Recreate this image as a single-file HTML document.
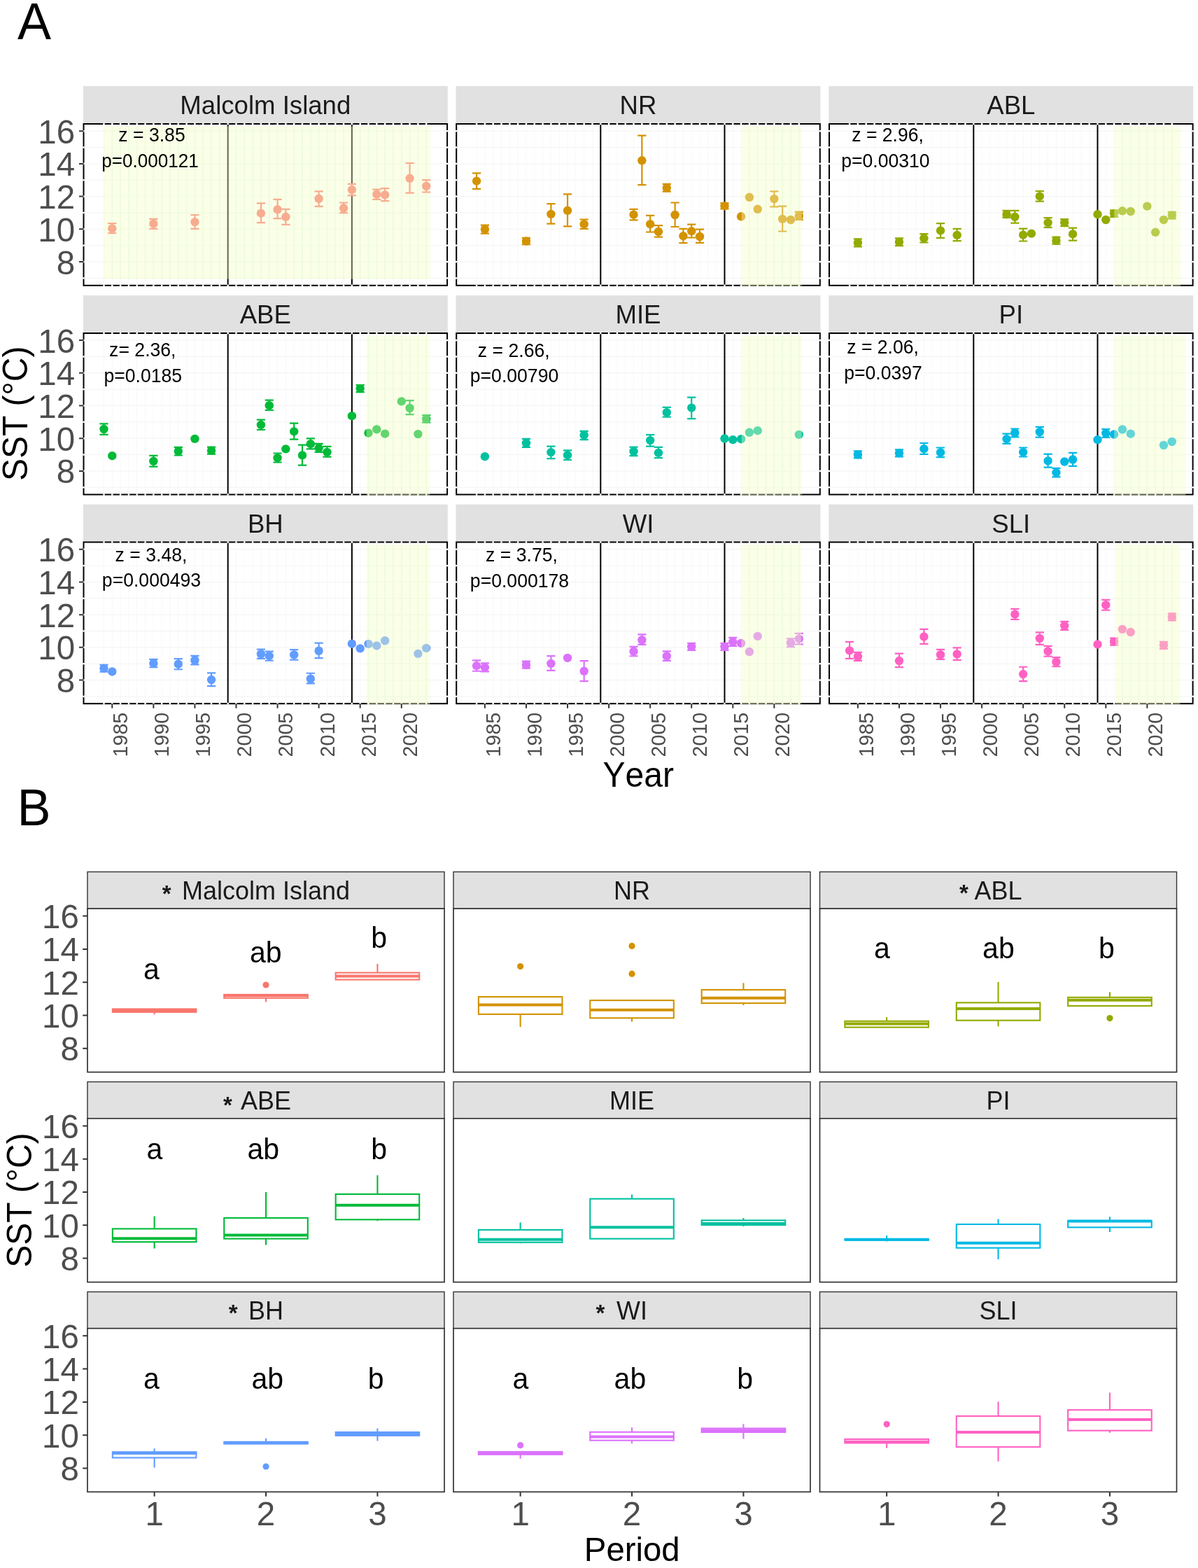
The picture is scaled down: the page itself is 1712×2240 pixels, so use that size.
<!DOCTYPE html>
<html><head><meta charset="utf-8"><title>SST figure</title>
<style>html,body{margin:0;padding:0;background:#fff;}svg{display:block;}text{font-family:"Liberation Sans", Arial, Helvetica, sans-serif;font-kerning:none;font-feature-settings:"kern" 0;}</style>
</head><body>
<svg width="1712" height="2240" viewBox="0 0 1712 2240">
<rect width="1712" height="2240" fill="#FFFFFF"/>
<text transform="translate(25 55.7) scale(1 1.03)" font-size="72" fill="#000">A</text>
<text transform="translate(24.5 1178.9) scale(1 1.03)" font-size="72" fill="#000">B</text>
<rect x="118.8" y="122.9" width="521" height="54.1" fill="#E1E1E1"/>
<text transform="translate(379.3 163) scale(1 1.03)" font-size="36.6" text-anchor="middle" fill="#1A1A1A">Malcolm Island</text>
<rect x="119.5" y="177" width="519.6" height="230.8" fill="#FFFFFF"/>
<path d="M148.49 177V407.8M160.3 177V407.8M172.11 177V407.8M183.93 177V407.8M195.74 177V407.8M207.55 177V407.8M219.37 177V407.8M231.18 177V407.8M242.99 177V407.8M254.8 177V407.8M266.62 177V407.8M278.43 177V407.8M290.24 177V407.8M302.06 177V407.8M313.87 177V407.8M325.68 177V407.8M337.5 177V407.8M349.31 177V407.8M361.12 177V407.8M372.93 177V407.8M384.75 177V407.8M396.56 177V407.8M408.37 177V407.8M420.19 177V407.8M432 177V407.8M443.81 177V407.8M455.62 177V407.8M467.44 177V407.8M479.25 177V407.8M491.06 177V407.8M502.88 177V407.8M514.69 177V407.8M526.5 177V407.8M538.32 177V407.8M550.13 177V407.8M561.94 177V407.8M573.76 177V407.8M585.57 177V407.8M597.38 177V407.8M609.19 177V407.8" stroke="#F8F8F8" stroke-width="1" fill="none"/>
<path d="M119.5 397.35H639.1M119.5 374H639.1M119.5 350.65H639.1M119.5 327.3H639.1M119.5 303.95H639.1M119.5 280.6H639.1M119.5 257.25H639.1M119.5 233.9H639.1M119.5 210.55H639.1M119.5 187.2H639.1" stroke="#F3F3F3" stroke-width="1" fill="none"/>
<path d="M160.3 180.5V398.7M172.11 180.5V398.7M183.93 180.5V398.7M195.74 180.5V398.7M207.55 180.5V398.7M219.37 180.5V398.7M231.18 180.5V398.7M242.99 180.5V398.7M254.8 180.5V398.7M266.62 180.5V398.7M278.43 180.5V398.7M290.24 180.5V398.7M302.06 180.5V398.7M313.87 180.5V398.7M325.68 180.5V398.7M337.5 180.5V398.7M349.31 180.5V398.7M361.12 180.5V398.7M372.93 180.5V398.7M384.75 180.5V398.7M396.56 180.5V398.7M408.37 180.5V398.7M420.19 180.5V398.7M432 180.5V398.7M443.81 180.5V398.7M455.62 180.5V398.7M467.44 180.5V398.7M479.25 180.5V398.7M491.06 180.5V398.7M502.88 180.5V398.7M514.69 180.5V398.7M526.5 180.5V398.7M538.32 180.5V398.7M550.13 180.5V398.7M561.94 180.5V398.7M573.76 180.5V398.7M585.57 180.5V398.7M597.38 180.5V398.7M609.19 180.5V398.7" stroke="rgb(232,250,240)" stroke-width="1.8" fill="none"/>
<path d="M148.3 397.35H615M148.3 374H615M148.3 350.65H615M148.3 327.3H615M148.3 303.95H615M148.3 280.6H615M148.3 257.25H615M148.3 233.9H615M148.3 210.55H615M148.3 187.2H615" stroke="rgb(238,250,244)" stroke-width="1.2" fill="none"/>
<line x1="325.68" y1="177" x2="325.68" y2="407.8" stroke="#000" stroke-width="2"/>
<line x1="502.88" y1="177" x2="502.88" y2="407.8" stroke="#000" stroke-width="2"/>
<path d="M160.3 319.1V333M154.2 319.1H166.4M154.2 333H166.4M219.37 312.9V326.8M213.27 312.9H225.47M213.27 326.8H225.47M278.43 307V326.8M272.33 307H284.53M272.33 326.8H284.53M372.93 290.3V318.2M366.83 290.3H379.03M366.83 318.2H379.03M396.56 284.9V312.1M390.46 284.9H402.66M390.46 312.1H402.66M408.37 298.8V320.9M402.27 298.8H414.47M402.27 320.9H414.47M455.62 273.3V294.9M449.52 273.3H461.73M449.52 294.9H461.73M491.06 289.5V304.2M484.96 289.5H497.16M484.96 304.2H497.16M502.88 262.9V279.1M496.78 262.9H508.98M496.78 279.1H508.98M538.32 270.6V284.9M532.22 270.6H544.42M532.22 284.9H544.42M550.13 269.1V287.2M544.03 269.1H556.23M544.03 287.2H556.23M585.57 233V275.7M579.47 233H591.67M579.47 275.7H591.67M609.19 257.2V274.5M603.09 257.2H615.29M603.09 274.5H615.29" stroke="#F8766D" stroke-width="2.2" fill="none"/>
<g fill="#F8766D"><circle cx="160.3" cy="326.4" r="6.2"/><circle cx="219.37" cy="319.7" r="6.2"/><circle cx="278.43" cy="317.1" r="6.2"/><circle cx="372.93" cy="304.7" r="6.2"/><circle cx="396.56" cy="299.3" r="6.2"/><circle cx="408.37" cy="309.8" r="6.2"/><circle cx="455.62" cy="283.8" r="6.2"/><circle cx="491.06" cy="297.3" r="6.2"/><circle cx="502.88" cy="271.1" r="6.2"/><circle cx="538.32" cy="277.6" r="6.2"/><circle cx="550.13" cy="278.4" r="6.2"/><circle cx="585.57" cy="254.8" r="6.2"/><circle cx="609.19" cy="266" r="6.2"/></g>
<rect x="119.5" y="177" width="519.6" height="230.8" fill="none" stroke="#000" stroke-width="2"/>
<g fill="#FFFFFF"><rect x="147.29" y="175.7" width="2.4" height="2.6"/><rect x="147.29" y="406.5" width="2.4" height="2.6"/><rect x="159.1" y="175.7" width="2.4" height="2.6"/><rect x="159.1" y="406.5" width="2.4" height="2.6"/><rect x="170.91" y="175.7" width="2.4" height="2.6"/><rect x="170.91" y="406.5" width="2.4" height="2.6"/><rect x="182.73" y="175.7" width="2.4" height="2.6"/><rect x="182.73" y="406.5" width="2.4" height="2.6"/><rect x="194.54" y="175.7" width="2.4" height="2.6"/><rect x="194.54" y="406.5" width="2.4" height="2.6"/><rect x="206.35" y="175.7" width="2.4" height="2.6"/><rect x="206.35" y="406.5" width="2.4" height="2.6"/><rect x="218.17" y="175.7" width="2.4" height="2.6"/><rect x="218.17" y="406.5" width="2.4" height="2.6"/><rect x="229.98" y="175.7" width="2.4" height="2.6"/><rect x="229.98" y="406.5" width="2.4" height="2.6"/><rect x="241.79" y="175.7" width="2.4" height="2.6"/><rect x="241.79" y="406.5" width="2.4" height="2.6"/><rect x="253.6" y="175.7" width="2.4" height="2.6"/><rect x="253.6" y="406.5" width="2.4" height="2.6"/><rect x="265.42" y="175.7" width="2.4" height="2.6"/><rect x="265.42" y="406.5" width="2.4" height="2.6"/><rect x="277.23" y="175.7" width="2.4" height="2.6"/><rect x="277.23" y="406.5" width="2.4" height="2.6"/><rect x="289.04" y="175.7" width="2.4" height="2.6"/><rect x="289.04" y="406.5" width="2.4" height="2.6"/><rect x="300.86" y="175.7" width="2.4" height="2.6"/><rect x="300.86" y="406.5" width="2.4" height="2.6"/><rect x="312.67" y="175.7" width="2.4" height="2.6"/><rect x="312.67" y="406.5" width="2.4" height="2.6"/><rect x="324.48" y="175.7" width="2.4" height="2.6"/><rect x="324.48" y="406.5" width="2.4" height="2.6"/><rect x="336.3" y="175.7" width="2.4" height="2.6"/><rect x="336.3" y="406.5" width="2.4" height="2.6"/><rect x="348.11" y="175.7" width="2.4" height="2.6"/><rect x="348.11" y="406.5" width="2.4" height="2.6"/><rect x="359.92" y="175.7" width="2.4" height="2.6"/><rect x="359.92" y="406.5" width="2.4" height="2.6"/><rect x="371.73" y="175.7" width="2.4" height="2.6"/><rect x="371.73" y="406.5" width="2.4" height="2.6"/><rect x="383.55" y="175.7" width="2.4" height="2.6"/><rect x="383.55" y="406.5" width="2.4" height="2.6"/><rect x="395.36" y="175.7" width="2.4" height="2.6"/><rect x="395.36" y="406.5" width="2.4" height="2.6"/><rect x="407.17" y="175.7" width="2.4" height="2.6"/><rect x="407.17" y="406.5" width="2.4" height="2.6"/><rect x="418.99" y="175.7" width="2.4" height="2.6"/><rect x="418.99" y="406.5" width="2.4" height="2.6"/><rect x="430.8" y="175.7" width="2.4" height="2.6"/><rect x="430.8" y="406.5" width="2.4" height="2.6"/><rect x="442.61" y="175.7" width="2.4" height="2.6"/><rect x="442.61" y="406.5" width="2.4" height="2.6"/><rect x="454.43" y="175.7" width="2.4" height="2.6"/><rect x="454.43" y="406.5" width="2.4" height="2.6"/><rect x="466.24" y="175.7" width="2.4" height="2.6"/><rect x="466.24" y="406.5" width="2.4" height="2.6"/><rect x="478.05" y="175.7" width="2.4" height="2.6"/><rect x="478.05" y="406.5" width="2.4" height="2.6"/><rect x="489.86" y="175.7" width="2.4" height="2.6"/><rect x="489.86" y="406.5" width="2.4" height="2.6"/><rect x="501.68" y="175.7" width="2.4" height="2.6"/><rect x="501.68" y="406.5" width="2.4" height="2.6"/><rect x="513.49" y="175.7" width="2.4" height="2.6"/><rect x="513.49" y="406.5" width="2.4" height="2.6"/><rect x="525.3" y="175.7" width="2.4" height="2.6"/><rect x="525.3" y="406.5" width="2.4" height="2.6"/><rect x="537.12" y="175.7" width="2.4" height="2.6"/><rect x="537.12" y="406.5" width="2.4" height="2.6"/><rect x="548.93" y="175.7" width="2.4" height="2.6"/><rect x="548.93" y="406.5" width="2.4" height="2.6"/><rect x="560.74" y="175.7" width="2.4" height="2.6"/><rect x="560.74" y="406.5" width="2.4" height="2.6"/><rect x="572.56" y="175.7" width="2.4" height="2.6"/><rect x="572.56" y="406.5" width="2.4" height="2.6"/><rect x="584.37" y="175.7" width="2.4" height="2.6"/><rect x="584.37" y="406.5" width="2.4" height="2.6"/><rect x="596.18" y="175.7" width="2.4" height="2.6"/><rect x="596.18" y="406.5" width="2.4" height="2.6"/><rect x="607.99" y="175.7" width="2.4" height="2.6"/><rect x="607.99" y="406.5" width="2.4" height="2.6"/><rect x="118.2" y="396.15" width="2.6" height="2.4"/><rect x="637.8" y="396.15" width="2.6" height="2.4"/><rect x="118.2" y="372.8" width="2.6" height="2.4"/><rect x="637.8" y="372.8" width="2.6" height="2.4"/><rect x="118.2" y="349.45" width="2.6" height="2.4"/><rect x="637.8" y="349.45" width="2.6" height="2.4"/><rect x="118.2" y="326.1" width="2.6" height="2.4"/><rect x="637.8" y="326.1" width="2.6" height="2.4"/><rect x="118.2" y="302.75" width="2.6" height="2.4"/><rect x="637.8" y="302.75" width="2.6" height="2.4"/><rect x="118.2" y="279.4" width="2.6" height="2.4"/><rect x="637.8" y="279.4" width="2.6" height="2.4"/><rect x="118.2" y="256.05" width="2.6" height="2.4"/><rect x="637.8" y="256.05" width="2.6" height="2.4"/><rect x="118.2" y="232.7" width="2.6" height="2.4"/><rect x="637.8" y="232.7" width="2.6" height="2.4"/><rect x="118.2" y="209.35" width="2.6" height="2.4"/><rect x="637.8" y="209.35" width="2.6" height="2.4"/><rect x="118.2" y="186" width="2.6" height="2.4"/><rect x="637.8" y="186" width="2.6" height="2.4"/></g>
<rect x="148.3" y="180.5" width="466.7" height="218.2" fill="rgb(245,255,195)" fill-opacity="0.4"/>
<text transform="translate(217 201.6) scale(1 1.03)" font-size="26.6" text-anchor="middle" fill="#000">z = 3.85</text>
<text transform="translate(214.5 238.8) scale(1 1.03)" font-size="26.1" text-anchor="middle" fill="#000">p=0.000121</text>
<rect x="651.5" y="122.9" width="521" height="54.1" fill="#E1E1E1"/>
<text transform="translate(912 163) scale(1 1.03)" font-size="36.6" text-anchor="middle" fill="#1A1A1A">NR</text>
<rect x="652.2" y="177" width="519.6" height="230.8" fill="#FFFFFF"/>
<path d="M681.09 177V407.8M692.9 177V407.8M704.71 177V407.8M716.53 177V407.8M728.34 177V407.8M740.15 177V407.8M751.97 177V407.8M763.78 177V407.8M775.59 177V407.8M787.4 177V407.8M799.22 177V407.8M811.03 177V407.8M822.84 177V407.8M834.66 177V407.8M846.47 177V407.8M858.28 177V407.8M870.1 177V407.8M881.91 177V407.8M893.72 177V407.8M905.53 177V407.8M917.35 177V407.8M929.16 177V407.8M940.97 177V407.8M952.79 177V407.8M964.6 177V407.8M976.41 177V407.8M988.22 177V407.8M1000.04 177V407.8M1011.85 177V407.8M1023.66 177V407.8M1035.48 177V407.8M1047.29 177V407.8M1059.1 177V407.8M1070.92 177V407.8M1082.73 177V407.8M1094.54 177V407.8M1106.36 177V407.8M1118.17 177V407.8M1129.98 177V407.8M1141.79 177V407.8" stroke="#F8F8F8" stroke-width="1" fill="none"/>
<path d="M652.2 397.35H1171.8M652.2 374H1171.8M652.2 350.65H1171.8M652.2 327.3H1171.8M652.2 303.95H1171.8M652.2 280.6H1171.8M652.2 257.25H1171.8M652.2 233.9H1171.8M652.2 210.55H1171.8M652.2 187.2H1171.8" stroke="#F3F3F3" stroke-width="1" fill="none"/>
<path d="M1070.92 180.6V407.8M1082.73 180.6V407.8M1094.54 180.6V407.8M1106.36 180.6V407.8M1118.17 180.6V407.8M1129.98 180.6V407.8M1141.79 180.6V407.8" stroke="rgb(232,250,240)" stroke-width="1.8" fill="none"/>
<path d="M1059.8 397.35H1145.7M1059.8 374H1145.7M1059.8 350.65H1145.7M1059.8 327.3H1145.7M1059.8 303.95H1145.7M1059.8 280.6H1145.7M1059.8 257.25H1145.7M1059.8 233.9H1145.7M1059.8 210.55H1145.7M1059.8 187.2H1145.7" stroke="rgb(238,250,244)" stroke-width="1.2" fill="none"/>
<line x1="858.28" y1="177" x2="858.28" y2="407.8" stroke="#000" stroke-width="2"/>
<line x1="1035.48" y1="177" x2="1035.48" y2="407.8" stroke="#000" stroke-width="2"/>
<path d="M681.09 247.4V269.9M674.99 247.4H687.19M674.99 269.9H687.19M692.9 321.7V333.6M686.8 321.7H699M686.8 333.6H699M751.97 339.9V349.1M745.87 339.9H758.07M745.87 349.1H758.07M787.4 291.1V319.7M781.3 291.1H793.5M781.3 319.7H793.5M811.03 277.3V323.3M804.93 277.3H817.13M804.93 323.3H817.13M834.66 313.5V326.8M828.56 313.5H840.76M828.56 326.8H840.76M905.53 298.8V314.3M899.43 298.8H911.63M899.43 314.3H911.63M917.35 193.7V264.1M911.25 193.7H923.45M911.25 264.1H923.45M929.16 307.8V331.5M923.06 307.8H935.26M923.06 331.5H935.26M940.97 322.2V338.7M934.87 322.2H947.07M934.87 338.7H947.07M952.79 262.9V273.7M946.69 262.9H958.89M946.69 273.7H958.89M964.6 289.5V324M958.5 289.5H970.7M958.5 324H970.7M976.41 326.8V347.2M970.31 326.8H982.51M970.31 347.2H982.51M988.22 320.6V339.5M982.12 320.6H994.32M982.12 339.5H994.32M1000.04 327.6V346.9M993.94 327.6H1006.14M993.94 346.9H1006.14M1035.48 290V298.5M1029.38 290H1041.58M1029.38 298.5H1041.58M1106.36 273.3V295.4M1100.26 273.3H1112.45M1100.26 295.4H1112.45M1118.17 294.6V330.5M1112.07 294.6H1124.27M1112.07 330.5H1124.27M1141.79 302.7V314M1135.69 302.7H1147.89M1135.69 314H1147.89" stroke="#D39200" stroke-width="2.2" fill="none"/>
<g fill="#D39200"><circle cx="681.09" cy="258.6" r="6.2"/><circle cx="692.9" cy="327.6" r="6.2"/><circle cx="751.97" cy="344.5" r="6.2"/><circle cx="787.4" cy="305.9" r="6.2"/><circle cx="811.03" cy="300.8" r="6.2"/><circle cx="834.66" cy="320.2" r="6.2"/><circle cx="905.53" cy="306.7" r="6.2"/><circle cx="917.35" cy="229.3" r="6.2"/><circle cx="929.16" cy="320.2" r="6.2"/><circle cx="940.97" cy="331" r="6.2"/><circle cx="952.79" cy="268.3" r="6.2"/><circle cx="964.6" cy="307" r="6.2"/><circle cx="976.41" cy="337.2" r="6.2"/><circle cx="988.22" cy="330.2" r="6.2"/><circle cx="1000.04" cy="338" r="6.2"/><circle cx="1035.48" cy="294.2" r="6.2"/><circle cx="1059.1" cy="309.3" r="6.2"/><circle cx="1070.92" cy="281.8" r="6.2"/><circle cx="1082.73" cy="298.8" r="6.2"/><circle cx="1106.36" cy="284.1" r="6.2"/><circle cx="1118.17" cy="312.9" r="6.2"/><circle cx="1129.98" cy="314" r="6.2"/><circle cx="1141.79" cy="308.5" r="6.2"/></g>
<rect x="652.2" y="177" width="519.6" height="230.8" fill="none" stroke="#000" stroke-width="2"/>
<g fill="#FFFFFF"><rect x="679.89" y="175.7" width="2.4" height="2.6"/><rect x="679.89" y="406.5" width="2.4" height="2.6"/><rect x="691.7" y="175.7" width="2.4" height="2.6"/><rect x="691.7" y="406.5" width="2.4" height="2.6"/><rect x="703.51" y="175.7" width="2.4" height="2.6"/><rect x="703.51" y="406.5" width="2.4" height="2.6"/><rect x="715.33" y="175.7" width="2.4" height="2.6"/><rect x="715.33" y="406.5" width="2.4" height="2.6"/><rect x="727.14" y="175.7" width="2.4" height="2.6"/><rect x="727.14" y="406.5" width="2.4" height="2.6"/><rect x="738.95" y="175.7" width="2.4" height="2.6"/><rect x="738.95" y="406.5" width="2.4" height="2.6"/><rect x="750.76" y="175.7" width="2.4" height="2.6"/><rect x="750.76" y="406.5" width="2.4" height="2.6"/><rect x="762.58" y="175.7" width="2.4" height="2.6"/><rect x="762.58" y="406.5" width="2.4" height="2.6"/><rect x="774.39" y="175.7" width="2.4" height="2.6"/><rect x="774.39" y="406.5" width="2.4" height="2.6"/><rect x="786.2" y="175.7" width="2.4" height="2.6"/><rect x="786.2" y="406.5" width="2.4" height="2.6"/><rect x="798.02" y="175.7" width="2.4" height="2.6"/><rect x="798.02" y="406.5" width="2.4" height="2.6"/><rect x="809.83" y="175.7" width="2.4" height="2.6"/><rect x="809.83" y="406.5" width="2.4" height="2.6"/><rect x="821.64" y="175.7" width="2.4" height="2.6"/><rect x="821.64" y="406.5" width="2.4" height="2.6"/><rect x="833.46" y="175.7" width="2.4" height="2.6"/><rect x="833.46" y="406.5" width="2.4" height="2.6"/><rect x="845.27" y="175.7" width="2.4" height="2.6"/><rect x="845.27" y="406.5" width="2.4" height="2.6"/><rect x="857.08" y="175.7" width="2.4" height="2.6"/><rect x="857.08" y="406.5" width="2.4" height="2.6"/><rect x="868.89" y="175.7" width="2.4" height="2.6"/><rect x="868.89" y="406.5" width="2.4" height="2.6"/><rect x="880.71" y="175.7" width="2.4" height="2.6"/><rect x="880.71" y="406.5" width="2.4" height="2.6"/><rect x="892.52" y="175.7" width="2.4" height="2.6"/><rect x="892.52" y="406.5" width="2.4" height="2.6"/><rect x="904.33" y="175.7" width="2.4" height="2.6"/><rect x="904.33" y="406.5" width="2.4" height="2.6"/><rect x="916.15" y="175.7" width="2.4" height="2.6"/><rect x="916.15" y="406.5" width="2.4" height="2.6"/><rect x="927.96" y="175.7" width="2.4" height="2.6"/><rect x="927.96" y="406.5" width="2.4" height="2.6"/><rect x="939.77" y="175.7" width="2.4" height="2.6"/><rect x="939.77" y="406.5" width="2.4" height="2.6"/><rect x="951.59" y="175.7" width="2.4" height="2.6"/><rect x="951.59" y="406.5" width="2.4" height="2.6"/><rect x="963.4" y="175.7" width="2.4" height="2.6"/><rect x="963.4" y="406.5" width="2.4" height="2.6"/><rect x="975.21" y="175.7" width="2.4" height="2.6"/><rect x="975.21" y="406.5" width="2.4" height="2.6"/><rect x="987.02" y="175.7" width="2.4" height="2.6"/><rect x="987.02" y="406.5" width="2.4" height="2.6"/><rect x="998.84" y="175.7" width="2.4" height="2.6"/><rect x="998.84" y="406.5" width="2.4" height="2.6"/><rect x="1010.65" y="175.7" width="2.4" height="2.6"/><rect x="1010.65" y="406.5" width="2.4" height="2.6"/><rect x="1022.46" y="175.7" width="2.4" height="2.6"/><rect x="1022.46" y="406.5" width="2.4" height="2.6"/><rect x="1034.28" y="175.7" width="2.4" height="2.6"/><rect x="1034.28" y="406.5" width="2.4" height="2.6"/><rect x="1046.09" y="175.7" width="2.4" height="2.6"/><rect x="1046.09" y="406.5" width="2.4" height="2.6"/><rect x="1057.9" y="175.7" width="2.4" height="2.6"/><rect x="1057.9" y="406.5" width="2.4" height="2.6"/><rect x="1069.72" y="175.7" width="2.4" height="2.6"/><rect x="1069.72" y="406.5" width="2.4" height="2.6"/><rect x="1081.53" y="175.7" width="2.4" height="2.6"/><rect x="1081.53" y="406.5" width="2.4" height="2.6"/><rect x="1093.34" y="175.7" width="2.4" height="2.6"/><rect x="1093.34" y="406.5" width="2.4" height="2.6"/><rect x="1105.15" y="175.7" width="2.4" height="2.6"/><rect x="1105.15" y="406.5" width="2.4" height="2.6"/><rect x="1116.97" y="175.7" width="2.4" height="2.6"/><rect x="1116.97" y="406.5" width="2.4" height="2.6"/><rect x="1128.78" y="175.7" width="2.4" height="2.6"/><rect x="1128.78" y="406.5" width="2.4" height="2.6"/><rect x="1140.59" y="175.7" width="2.4" height="2.6"/><rect x="1140.59" y="406.5" width="2.4" height="2.6"/><rect x="650.9" y="396.15" width="2.6" height="2.4"/><rect x="1170.5" y="396.15" width="2.6" height="2.4"/><rect x="650.9" y="372.8" width="2.6" height="2.4"/><rect x="1170.5" y="372.8" width="2.6" height="2.4"/><rect x="650.9" y="349.45" width="2.6" height="2.4"/><rect x="1170.5" y="349.45" width="2.6" height="2.4"/><rect x="650.9" y="326.1" width="2.6" height="2.4"/><rect x="1170.5" y="326.1" width="2.6" height="2.4"/><rect x="650.9" y="302.75" width="2.6" height="2.4"/><rect x="1170.5" y="302.75" width="2.6" height="2.4"/><rect x="650.9" y="279.4" width="2.6" height="2.4"/><rect x="1170.5" y="279.4" width="2.6" height="2.4"/><rect x="650.9" y="256.05" width="2.6" height="2.4"/><rect x="1170.5" y="256.05" width="2.6" height="2.4"/><rect x="650.9" y="232.7" width="2.6" height="2.4"/><rect x="1170.5" y="232.7" width="2.6" height="2.4"/><rect x="650.9" y="209.35" width="2.6" height="2.4"/><rect x="1170.5" y="209.35" width="2.6" height="2.4"/><rect x="650.9" y="186" width="2.6" height="2.4"/><rect x="1170.5" y="186" width="2.6" height="2.4"/></g>
<rect x="1059.8" y="180.6" width="85.9" height="228.2" fill="rgb(245,255,195)" fill-opacity="0.4"/>
<rect x="1184.3" y="122.9" width="521" height="54.1" fill="#E1E1E1"/>
<text transform="translate(1444.8 163) scale(1 1.03)" font-size="36.6" text-anchor="middle" fill="#1A1A1A">ABL</text>
<rect x="1185" y="177" width="519.6" height="230.8" fill="#FFFFFF"/>
<path d="M1214.09 177V407.8M1225.9 177V407.8M1237.71 177V407.8M1249.53 177V407.8M1261.34 177V407.8M1273.15 177V407.8M1284.97 177V407.8M1296.78 177V407.8M1308.59 177V407.8M1320.4 177V407.8M1332.22 177V407.8M1344.03 177V407.8M1355.84 177V407.8M1367.66 177V407.8M1379.47 177V407.8M1391.28 177V407.8M1403.1 177V407.8M1414.91 177V407.8M1426.72 177V407.8M1438.53 177V407.8M1450.35 177V407.8M1462.16 177V407.8M1473.97 177V407.8M1485.79 177V407.8M1497.6 177V407.8M1509.41 177V407.8M1521.23 177V407.8M1533.04 177V407.8M1544.85 177V407.8M1556.66 177V407.8M1568.48 177V407.8M1580.29 177V407.8M1592.1 177V407.8M1603.92 177V407.8M1615.73 177V407.8M1627.54 177V407.8M1639.36 177V407.8M1651.17 177V407.8M1662.98 177V407.8M1674.79 177V407.8" stroke="#F8F8F8" stroke-width="1" fill="none"/>
<path d="M1185 397.35H1704.6M1185 374H1704.6M1185 350.65H1704.6M1185 327.3H1704.6M1185 303.95H1704.6M1185 280.6H1704.6M1185 257.25H1704.6M1185 233.9H1704.6M1185 210.55H1704.6M1185 187.2H1704.6" stroke="#F3F3F3" stroke-width="1" fill="none"/>
<path d="M1603.92 180.6V407.8M1615.73 180.6V407.8M1627.54 180.6V407.8M1639.36 180.6V407.8M1651.17 180.6V407.8M1662.98 180.6V407.8M1674.79 180.6V407.8" stroke="rgb(232,250,240)" stroke-width="1.8" fill="none"/>
<path d="M1592.3 397.35H1687M1592.3 374H1687M1592.3 350.65H1687M1592.3 327.3H1687M1592.3 303.95H1687M1592.3 280.6H1687M1592.3 257.25H1687M1592.3 233.9H1687M1592.3 210.55H1687M1592.3 187.2H1687" stroke="rgb(238,250,244)" stroke-width="1.2" fill="none"/>
<line x1="1391.28" y1="177" x2="1391.28" y2="407.8" stroke="#000" stroke-width="2"/>
<line x1="1568.48" y1="177" x2="1568.48" y2="407.8" stroke="#000" stroke-width="2"/>
<path d="M1225.9 341.3V352.3M1219.8 341.3H1232M1219.8 352.3H1232M1284.97 340.3V351.1M1278.87 340.3H1291.07M1278.87 351.1H1291.07M1320.4 334.1V346.5M1314.3 334.1H1326.5M1314.3 346.5H1326.5M1344.03 319.1V339.8M1337.93 319.1H1350.13M1337.93 339.8H1350.13M1367.66 326.8V344.1M1361.56 326.8H1373.76M1361.56 344.1H1373.76M1438.53 300.8V310.9M1432.43 300.8H1444.63M1432.43 310.9H1444.63M1450.35 300.8V318.6M1444.25 300.8H1456.45M1444.25 318.6H1456.45M1462.16 326.7V344.5M1456.06 326.7H1468.26M1456.06 344.5H1468.26M1485.79 273V287.7M1479.69 273H1491.89M1479.69 287.7H1491.89M1497.6 311.2V324.8M1491.5 311.2H1503.7M1491.5 324.8H1503.7M1509.41 338.7V348.7M1503.31 338.7H1515.51M1503.31 348.7H1515.51M1521.23 313.1V323.1M1515.13 313.1H1527.33M1515.13 323.1H1527.33M1533.04 325.6V343.7M1526.94 325.6H1539.14M1526.94 343.7H1539.14M1592.1 300.3V309.8M1586 300.3H1598.2M1586 309.8H1598.2M1674.79 302.8V312.3M1668.69 302.8H1680.89M1668.69 312.3H1680.89" stroke="#93AA00" stroke-width="2.2" fill="none"/>
<g fill="#93AA00"><circle cx="1225.9" cy="346.8" r="6.2"/><circle cx="1284.97" cy="345.7" r="6.2"/><circle cx="1320.4" cy="340.3" r="6.2"/><circle cx="1344.03" cy="329.4" r="6.2"/><circle cx="1367.66" cy="335.9" r="6.2"/><circle cx="1438.53" cy="306.2" r="6.2"/><circle cx="1450.35" cy="309.8" r="6.2"/><circle cx="1462.16" cy="335.6" r="6.2"/><circle cx="1473.97" cy="333.6" r="6.2"/><circle cx="1485.79" cy="280.4" r="6.2"/><circle cx="1497.6" cy="318.1" r="6.2"/><circle cx="1509.41" cy="343.7" r="6.2"/><circle cx="1521.23" cy="318.1" r="6.2"/><circle cx="1533.04" cy="334.4" r="6.2"/><circle cx="1568.48" cy="306.2" r="6.2"/><circle cx="1580.29" cy="314" r="6.2"/><circle cx="1592.1" cy="305" r="6.2"/><circle cx="1603.92" cy="301.3" r="6.2"/><circle cx="1615.73" cy="302" r="6.2"/><circle cx="1639.36" cy="294.6" r="6.2"/><circle cx="1651.17" cy="331.8" r="6.2"/><circle cx="1662.98" cy="314" r="6.2"/><circle cx="1674.79" cy="307.5" r="6.2"/></g>
<rect x="1185" y="177" width="519.6" height="230.8" fill="none" stroke="#000" stroke-width="2"/>
<g fill="#FFFFFF"><rect x="1212.89" y="175.7" width="2.4" height="2.6"/><rect x="1212.89" y="406.5" width="2.4" height="2.6"/><rect x="1224.7" y="175.7" width="2.4" height="2.6"/><rect x="1224.7" y="406.5" width="2.4" height="2.6"/><rect x="1236.51" y="175.7" width="2.4" height="2.6"/><rect x="1236.51" y="406.5" width="2.4" height="2.6"/><rect x="1248.33" y="175.7" width="2.4" height="2.6"/><rect x="1248.33" y="406.5" width="2.4" height="2.6"/><rect x="1260.14" y="175.7" width="2.4" height="2.6"/><rect x="1260.14" y="406.5" width="2.4" height="2.6"/><rect x="1271.95" y="175.7" width="2.4" height="2.6"/><rect x="1271.95" y="406.5" width="2.4" height="2.6"/><rect x="1283.77" y="175.7" width="2.4" height="2.6"/><rect x="1283.77" y="406.5" width="2.4" height="2.6"/><rect x="1295.58" y="175.7" width="2.4" height="2.6"/><rect x="1295.58" y="406.5" width="2.4" height="2.6"/><rect x="1307.39" y="175.7" width="2.4" height="2.6"/><rect x="1307.39" y="406.5" width="2.4" height="2.6"/><rect x="1319.2" y="175.7" width="2.4" height="2.6"/><rect x="1319.2" y="406.5" width="2.4" height="2.6"/><rect x="1331.02" y="175.7" width="2.4" height="2.6"/><rect x="1331.02" y="406.5" width="2.4" height="2.6"/><rect x="1342.83" y="175.7" width="2.4" height="2.6"/><rect x="1342.83" y="406.5" width="2.4" height="2.6"/><rect x="1354.64" y="175.7" width="2.4" height="2.6"/><rect x="1354.64" y="406.5" width="2.4" height="2.6"/><rect x="1366.46" y="175.7" width="2.4" height="2.6"/><rect x="1366.46" y="406.5" width="2.4" height="2.6"/><rect x="1378.27" y="175.7" width="2.4" height="2.6"/><rect x="1378.27" y="406.5" width="2.4" height="2.6"/><rect x="1390.08" y="175.7" width="2.4" height="2.6"/><rect x="1390.08" y="406.5" width="2.4" height="2.6"/><rect x="1401.89" y="175.7" width="2.4" height="2.6"/><rect x="1401.89" y="406.5" width="2.4" height="2.6"/><rect x="1413.71" y="175.7" width="2.4" height="2.6"/><rect x="1413.71" y="406.5" width="2.4" height="2.6"/><rect x="1425.52" y="175.7" width="2.4" height="2.6"/><rect x="1425.52" y="406.5" width="2.4" height="2.6"/><rect x="1437.33" y="175.7" width="2.4" height="2.6"/><rect x="1437.33" y="406.5" width="2.4" height="2.6"/><rect x="1449.15" y="175.7" width="2.4" height="2.6"/><rect x="1449.15" y="406.5" width="2.4" height="2.6"/><rect x="1460.96" y="175.7" width="2.4" height="2.6"/><rect x="1460.96" y="406.5" width="2.4" height="2.6"/><rect x="1472.77" y="175.7" width="2.4" height="2.6"/><rect x="1472.77" y="406.5" width="2.4" height="2.6"/><rect x="1484.59" y="175.7" width="2.4" height="2.6"/><rect x="1484.59" y="406.5" width="2.4" height="2.6"/><rect x="1496.4" y="175.7" width="2.4" height="2.6"/><rect x="1496.4" y="406.5" width="2.4" height="2.6"/><rect x="1508.21" y="175.7" width="2.4" height="2.6"/><rect x="1508.21" y="406.5" width="2.4" height="2.6"/><rect x="1520.03" y="175.7" width="2.4" height="2.6"/><rect x="1520.03" y="406.5" width="2.4" height="2.6"/><rect x="1531.84" y="175.7" width="2.4" height="2.6"/><rect x="1531.84" y="406.5" width="2.4" height="2.6"/><rect x="1543.65" y="175.7" width="2.4" height="2.6"/><rect x="1543.65" y="406.5" width="2.4" height="2.6"/><rect x="1555.46" y="175.7" width="2.4" height="2.6"/><rect x="1555.46" y="406.5" width="2.4" height="2.6"/><rect x="1567.28" y="175.7" width="2.4" height="2.6"/><rect x="1567.28" y="406.5" width="2.4" height="2.6"/><rect x="1579.09" y="175.7" width="2.4" height="2.6"/><rect x="1579.09" y="406.5" width="2.4" height="2.6"/><rect x="1590.9" y="175.7" width="2.4" height="2.6"/><rect x="1590.9" y="406.5" width="2.4" height="2.6"/><rect x="1602.72" y="175.7" width="2.4" height="2.6"/><rect x="1602.72" y="406.5" width="2.4" height="2.6"/><rect x="1614.53" y="175.7" width="2.4" height="2.6"/><rect x="1614.53" y="406.5" width="2.4" height="2.6"/><rect x="1626.34" y="175.7" width="2.4" height="2.6"/><rect x="1626.34" y="406.5" width="2.4" height="2.6"/><rect x="1638.15" y="175.7" width="2.4" height="2.6"/><rect x="1638.15" y="406.5" width="2.4" height="2.6"/><rect x="1649.97" y="175.7" width="2.4" height="2.6"/><rect x="1649.97" y="406.5" width="2.4" height="2.6"/><rect x="1661.78" y="175.7" width="2.4" height="2.6"/><rect x="1661.78" y="406.5" width="2.4" height="2.6"/><rect x="1673.59" y="175.7" width="2.4" height="2.6"/><rect x="1673.59" y="406.5" width="2.4" height="2.6"/><rect x="1183.7" y="396.15" width="2.6" height="2.4"/><rect x="1703.3" y="396.15" width="2.6" height="2.4"/><rect x="1183.7" y="372.8" width="2.6" height="2.4"/><rect x="1703.3" y="372.8" width="2.6" height="2.4"/><rect x="1183.7" y="349.45" width="2.6" height="2.4"/><rect x="1703.3" y="349.45" width="2.6" height="2.4"/><rect x="1183.7" y="326.1" width="2.6" height="2.4"/><rect x="1703.3" y="326.1" width="2.6" height="2.4"/><rect x="1183.7" y="302.75" width="2.6" height="2.4"/><rect x="1703.3" y="302.75" width="2.6" height="2.4"/><rect x="1183.7" y="279.4" width="2.6" height="2.4"/><rect x="1703.3" y="279.4" width="2.6" height="2.4"/><rect x="1183.7" y="256.05" width="2.6" height="2.4"/><rect x="1703.3" y="256.05" width="2.6" height="2.4"/><rect x="1183.7" y="232.7" width="2.6" height="2.4"/><rect x="1703.3" y="232.7" width="2.6" height="2.4"/><rect x="1183.7" y="209.35" width="2.6" height="2.4"/><rect x="1703.3" y="209.35" width="2.6" height="2.4"/><rect x="1183.7" y="186" width="2.6" height="2.4"/><rect x="1703.3" y="186" width="2.6" height="2.4"/></g>
<rect x="1592.3" y="180.6" width="94.7" height="228.2" fill="rgb(245,255,195)" fill-opacity="0.4"/>
<text transform="translate(1268.6 201.8) scale(1 1.03)" font-size="26.6" text-anchor="middle" fill="#000">z = 2.96,</text>
<text transform="translate(1265.4 238.9) scale(1 1.03)" font-size="26.6" text-anchor="middle" fill="#000">p=0.00310</text>
<rect x="118.8" y="422" width="521" height="54" fill="#E1E1E1"/>
<text transform="translate(379.3 462.1) scale(1 1.03)" font-size="36.6" text-anchor="middle" fill="#1A1A1A">ABE</text>
<rect x="119.5" y="476" width="519.6" height="230.5" fill="#FFFFFF"/>
<path d="M148.49 476V706.5M160.3 476V706.5M172.11 476V706.5M183.93 476V706.5M195.74 476V706.5M207.55 476V706.5M219.37 476V706.5M231.18 476V706.5M242.99 476V706.5M254.8 476V706.5M266.62 476V706.5M278.43 476V706.5M290.24 476V706.5M302.06 476V706.5M313.87 476V706.5M325.68 476V706.5M337.5 476V706.5M349.31 476V706.5M361.12 476V706.5M372.93 476V706.5M384.75 476V706.5M396.56 476V706.5M408.37 476V706.5M420.19 476V706.5M432 476V706.5M443.81 476V706.5M455.62 476V706.5M467.44 476V706.5M479.25 476V706.5M491.06 476V706.5M502.88 476V706.5M514.69 476V706.5M526.5 476V706.5M538.32 476V706.5M550.13 476V706.5M561.94 476V706.5M573.76 476V706.5M585.57 476V706.5M597.38 476V706.5M609.19 476V706.5" stroke="#F8F8F8" stroke-width="1" fill="none"/>
<path d="M119.5 696.25H639.1M119.5 672.9H639.1M119.5 649.55H639.1M119.5 626.2H639.1M119.5 602.85H639.1M119.5 579.5H639.1M119.5 556.15H639.1M119.5 532.8H639.1M119.5 509.45H639.1M119.5 486.1H639.1" stroke="#F3F3F3" stroke-width="1" fill="none"/>
<path d="M526.5 479.6V706.5M538.32 479.6V706.5M550.13 479.6V706.5M561.94 479.6V706.5M573.76 479.6V706.5M585.57 479.6V706.5M597.38 479.6V706.5M609.19 479.6V706.5" stroke="rgb(232,250,240)" stroke-width="1.8" fill="none"/>
<path d="M523.6 696.25H614.2M523.6 672.9H614.2M523.6 649.55H614.2M523.6 626.2H614.2M523.6 602.85H614.2M523.6 579.5H614.2M523.6 556.15H614.2M523.6 532.8H614.2M523.6 509.45H614.2M523.6 486.1H614.2" stroke="rgb(238,250,244)" stroke-width="1.2" fill="none"/>
<line x1="325.68" y1="476" x2="325.68" y2="706.5" stroke="#000" stroke-width="2"/>
<line x1="502.88" y1="476" x2="502.88" y2="706.5" stroke="#000" stroke-width="2"/>
<path d="M148.49 605.4V620.8M142.39 605.4H154.59M142.39 620.8H154.59M219.37 650.8V666.6M213.27 650.8H225.47M213.27 666.6H225.47M254.8 638.9V650.5M248.7 638.9H260.9M248.7 650.5H260.9M302.06 638.7V648.7M295.96 638.7H308.16M295.96 648.7H308.16M372.93 599.7V614M366.83 599.7H379.03M366.83 614H379.03M384.75 571.7V585.9M378.65 571.7H390.85M378.65 585.9H390.85M396.56 647.5V660.5M390.46 647.5H402.66M390.46 660.5H402.66M420.19 604.6V627.6M414.09 604.6H426.29M414.09 627.6H426.29M432 635.6V664.6M425.9 635.6H438.1M425.9 664.6H438.1M443.81 626.4V641.4M437.71 626.4H449.91M437.71 641.4H449.91M455.62 633.9V645.9M449.52 633.9H461.73M449.52 645.9H461.73M467.44 637.9V652.6M461.34 637.9H473.54M461.34 652.6H473.54M514.69 550.2V560.2M508.59 550.2H520.79M508.59 560.2H520.79M585.57 572.2V592.2M579.47 572.2H591.67M579.47 592.2H591.67M609.19 593.2V603.7M603.09 593.2H615.29M603.09 603.7H615.29" stroke="#00BA38" stroke-width="2.2" fill="none"/>
<g fill="#00BA38"><circle cx="148.49" cy="613" r="6.2"/><circle cx="160.3" cy="651.2" r="6.2"/><circle cx="219.37" cy="658.8" r="6.2"/><circle cx="254.8" cy="644.7" r="6.2"/><circle cx="278.43" cy="626.9" r="6.2"/><circle cx="302.06" cy="643.7" r="6.2"/><circle cx="372.93" cy="606.9" r="6.2"/><circle cx="384.75" cy="579.2" r="6.2"/><circle cx="396.56" cy="654.2" r="6.2"/><circle cx="408.37" cy="641.4" r="6.2"/><circle cx="420.19" cy="616.4" r="6.2"/><circle cx="432" cy="650.4" r="6.2"/><circle cx="443.81" cy="634.2" r="6.2"/><circle cx="455.62" cy="640.1" r="6.2"/><circle cx="467.44" cy="645.9" r="6.2"/><circle cx="502.88" cy="594.2" r="6.2"/><circle cx="514.69" cy="555.1" r="6.2"/><circle cx="526.5" cy="618.7" r="6.2"/><circle cx="538.32" cy="613.4" r="6.2"/><circle cx="550.13" cy="619.6" r="6.2"/><circle cx="573.76" cy="573.4" r="6.2"/><circle cx="585.57" cy="583" r="6.2"/><circle cx="597.38" cy="620.1" r="6.2"/><circle cx="609.19" cy="598.4" r="6.2"/></g>
<rect x="119.5" y="476" width="519.6" height="230.5" fill="none" stroke="#000" stroke-width="2"/>
<g fill="#FFFFFF"><rect x="147.29" y="474.7" width="2.4" height="2.6"/><rect x="147.29" y="705.2" width="2.4" height="2.6"/><rect x="159.1" y="474.7" width="2.4" height="2.6"/><rect x="159.1" y="705.2" width="2.4" height="2.6"/><rect x="170.91" y="474.7" width="2.4" height="2.6"/><rect x="170.91" y="705.2" width="2.4" height="2.6"/><rect x="182.73" y="474.7" width="2.4" height="2.6"/><rect x="182.73" y="705.2" width="2.4" height="2.6"/><rect x="194.54" y="474.7" width="2.4" height="2.6"/><rect x="194.54" y="705.2" width="2.4" height="2.6"/><rect x="206.35" y="474.7" width="2.4" height="2.6"/><rect x="206.35" y="705.2" width="2.4" height="2.6"/><rect x="218.17" y="474.7" width="2.4" height="2.6"/><rect x="218.17" y="705.2" width="2.4" height="2.6"/><rect x="229.98" y="474.7" width="2.4" height="2.6"/><rect x="229.98" y="705.2" width="2.4" height="2.6"/><rect x="241.79" y="474.7" width="2.4" height="2.6"/><rect x="241.79" y="705.2" width="2.4" height="2.6"/><rect x="253.6" y="474.7" width="2.4" height="2.6"/><rect x="253.6" y="705.2" width="2.4" height="2.6"/><rect x="265.42" y="474.7" width="2.4" height="2.6"/><rect x="265.42" y="705.2" width="2.4" height="2.6"/><rect x="277.23" y="474.7" width="2.4" height="2.6"/><rect x="277.23" y="705.2" width="2.4" height="2.6"/><rect x="289.04" y="474.7" width="2.4" height="2.6"/><rect x="289.04" y="705.2" width="2.4" height="2.6"/><rect x="300.86" y="474.7" width="2.4" height="2.6"/><rect x="300.86" y="705.2" width="2.4" height="2.6"/><rect x="312.67" y="474.7" width="2.4" height="2.6"/><rect x="312.67" y="705.2" width="2.4" height="2.6"/><rect x="324.48" y="474.7" width="2.4" height="2.6"/><rect x="324.48" y="705.2" width="2.4" height="2.6"/><rect x="336.3" y="474.7" width="2.4" height="2.6"/><rect x="336.3" y="705.2" width="2.4" height="2.6"/><rect x="348.11" y="474.7" width="2.4" height="2.6"/><rect x="348.11" y="705.2" width="2.4" height="2.6"/><rect x="359.92" y="474.7" width="2.4" height="2.6"/><rect x="359.92" y="705.2" width="2.4" height="2.6"/><rect x="371.73" y="474.7" width="2.4" height="2.6"/><rect x="371.73" y="705.2" width="2.4" height="2.6"/><rect x="383.55" y="474.7" width="2.4" height="2.6"/><rect x="383.55" y="705.2" width="2.4" height="2.6"/><rect x="395.36" y="474.7" width="2.4" height="2.6"/><rect x="395.36" y="705.2" width="2.4" height="2.6"/><rect x="407.17" y="474.7" width="2.4" height="2.6"/><rect x="407.17" y="705.2" width="2.4" height="2.6"/><rect x="418.99" y="474.7" width="2.4" height="2.6"/><rect x="418.99" y="705.2" width="2.4" height="2.6"/><rect x="430.8" y="474.7" width="2.4" height="2.6"/><rect x="430.8" y="705.2" width="2.4" height="2.6"/><rect x="442.61" y="474.7" width="2.4" height="2.6"/><rect x="442.61" y="705.2" width="2.4" height="2.6"/><rect x="454.43" y="474.7" width="2.4" height="2.6"/><rect x="454.43" y="705.2" width="2.4" height="2.6"/><rect x="466.24" y="474.7" width="2.4" height="2.6"/><rect x="466.24" y="705.2" width="2.4" height="2.6"/><rect x="478.05" y="474.7" width="2.4" height="2.6"/><rect x="478.05" y="705.2" width="2.4" height="2.6"/><rect x="489.86" y="474.7" width="2.4" height="2.6"/><rect x="489.86" y="705.2" width="2.4" height="2.6"/><rect x="501.68" y="474.7" width="2.4" height="2.6"/><rect x="501.68" y="705.2" width="2.4" height="2.6"/><rect x="513.49" y="474.7" width="2.4" height="2.6"/><rect x="513.49" y="705.2" width="2.4" height="2.6"/><rect x="525.3" y="474.7" width="2.4" height="2.6"/><rect x="525.3" y="705.2" width="2.4" height="2.6"/><rect x="537.12" y="474.7" width="2.4" height="2.6"/><rect x="537.12" y="705.2" width="2.4" height="2.6"/><rect x="548.93" y="474.7" width="2.4" height="2.6"/><rect x="548.93" y="705.2" width="2.4" height="2.6"/><rect x="560.74" y="474.7" width="2.4" height="2.6"/><rect x="560.74" y="705.2" width="2.4" height="2.6"/><rect x="572.56" y="474.7" width="2.4" height="2.6"/><rect x="572.56" y="705.2" width="2.4" height="2.6"/><rect x="584.37" y="474.7" width="2.4" height="2.6"/><rect x="584.37" y="705.2" width="2.4" height="2.6"/><rect x="596.18" y="474.7" width="2.4" height="2.6"/><rect x="596.18" y="705.2" width="2.4" height="2.6"/><rect x="607.99" y="474.7" width="2.4" height="2.6"/><rect x="607.99" y="705.2" width="2.4" height="2.6"/><rect x="118.2" y="695.05" width="2.6" height="2.4"/><rect x="637.8" y="695.05" width="2.6" height="2.4"/><rect x="118.2" y="671.7" width="2.6" height="2.4"/><rect x="637.8" y="671.7" width="2.6" height="2.4"/><rect x="118.2" y="648.35" width="2.6" height="2.4"/><rect x="637.8" y="648.35" width="2.6" height="2.4"/><rect x="118.2" y="625" width="2.6" height="2.4"/><rect x="637.8" y="625" width="2.6" height="2.4"/><rect x="118.2" y="601.65" width="2.6" height="2.4"/><rect x="637.8" y="601.65" width="2.6" height="2.4"/><rect x="118.2" y="578.3" width="2.6" height="2.4"/><rect x="637.8" y="578.3" width="2.6" height="2.4"/><rect x="118.2" y="554.95" width="2.6" height="2.4"/><rect x="637.8" y="554.95" width="2.6" height="2.4"/><rect x="118.2" y="531.6" width="2.6" height="2.4"/><rect x="637.8" y="531.6" width="2.6" height="2.4"/><rect x="118.2" y="508.25" width="2.6" height="2.4"/><rect x="637.8" y="508.25" width="2.6" height="2.4"/><rect x="118.2" y="484.9" width="2.6" height="2.4"/><rect x="637.8" y="484.9" width="2.6" height="2.4"/></g>
<rect x="523.6" y="479.6" width="90.6" height="227.9" fill="rgb(245,255,195)" fill-opacity="0.4"/>
<text transform="translate(203.8 509.4) scale(1 1.03)" font-size="26.6" text-anchor="middle" fill="#000">z= 2.36,</text>
<text transform="translate(204.25 546.2) scale(1 1.03)" font-size="26.6" text-anchor="middle" fill="#000">p=0.0185</text>
<rect x="651.5" y="422" width="521" height="54" fill="#E1E1E1"/>
<text transform="translate(912 462.1) scale(1 1.03)" font-size="36.6" text-anchor="middle" fill="#1A1A1A">MIE</text>
<rect x="652.2" y="476" width="519.6" height="230.5" fill="#FFFFFF"/>
<path d="M681.09 476V706.5M692.9 476V706.5M704.71 476V706.5M716.53 476V706.5M728.34 476V706.5M740.15 476V706.5M751.97 476V706.5M763.78 476V706.5M775.59 476V706.5M787.4 476V706.5M799.22 476V706.5M811.03 476V706.5M822.84 476V706.5M834.66 476V706.5M846.47 476V706.5M858.28 476V706.5M870.1 476V706.5M881.91 476V706.5M893.72 476V706.5M905.53 476V706.5M917.35 476V706.5M929.16 476V706.5M940.97 476V706.5M952.79 476V706.5M964.6 476V706.5M976.41 476V706.5M988.22 476V706.5M1000.04 476V706.5M1011.85 476V706.5M1023.66 476V706.5M1035.48 476V706.5M1047.29 476V706.5M1059.1 476V706.5M1070.92 476V706.5M1082.73 476V706.5M1094.54 476V706.5M1106.36 476V706.5M1118.17 476V706.5M1129.98 476V706.5M1141.79 476V706.5" stroke="#F8F8F8" stroke-width="1" fill="none"/>
<path d="M652.2 696.25H1171.8M652.2 672.9H1171.8M652.2 649.55H1171.8M652.2 626.2H1171.8M652.2 602.85H1171.8M652.2 579.5H1171.8M652.2 556.15H1171.8M652.2 532.8H1171.8M652.2 509.45H1171.8M652.2 486.1H1171.8" stroke="#F3F3F3" stroke-width="1" fill="none"/>
<path d="M1070.92 479.6V706.5M1082.73 479.6V706.5M1094.54 479.6V706.5M1106.36 479.6V706.5M1118.17 479.6V706.5M1129.98 479.6V706.5M1141.79 479.6V706.5" stroke="rgb(232,250,240)" stroke-width="1.8" fill="none"/>
<path d="M1059.8 696.25H1145.7M1059.8 672.9H1145.7M1059.8 649.55H1145.7M1059.8 626.2H1145.7M1059.8 602.85H1145.7M1059.8 579.5H1145.7M1059.8 556.15H1145.7M1059.8 532.8H1145.7M1059.8 509.45H1145.7M1059.8 486.1H1145.7" stroke="rgb(238,250,244)" stroke-width="1.2" fill="none"/>
<line x1="858.28" y1="476" x2="858.28" y2="706.5" stroke="#000" stroke-width="2"/>
<line x1="1035.48" y1="476" x2="1035.48" y2="706.5" stroke="#000" stroke-width="2"/>
<path d="M751.97 626.9V638.9M745.87 626.9H758.07M745.87 638.9H758.07M787.4 637.6V655.1M781.3 637.6H793.5M781.3 655.1H793.5M811.03 643.4V657M804.93 643.4H817.13M804.93 657H817.13M834.66 615.9V628.2M828.56 615.9H840.76M828.56 628.2H840.76M905.53 638.7V651.2M899.43 638.7H911.63M899.43 651.2H911.63M929.16 621.1V637.6M923.06 621.1H935.26M923.06 637.6H935.26M940.97 638.9V654.2M934.87 638.9H947.07M934.87 654.2H947.07M952.79 581.8V595.7M946.69 581.8H958.89M946.69 595.7H958.89M988.22 567.6V598.2M982.12 567.6H994.32M982.12 598.2H994.32" stroke="#00C19F" stroke-width="2.2" fill="none"/>
<g fill="#00C19F"><circle cx="692.9" cy="652.2" r="6.2"/><circle cx="751.97" cy="633" r="6.2"/><circle cx="787.4" cy="646.1" r="6.2"/><circle cx="811.03" cy="650.2" r="6.2"/><circle cx="834.66" cy="621.7" r="6.2"/><circle cx="905.53" cy="644.9" r="6.2"/><circle cx="929.16" cy="629.1" r="6.2"/><circle cx="940.97" cy="646.9" r="6.2"/><circle cx="952.79" cy="589.2" r="6.2"/><circle cx="988.22" cy="582.6" r="6.2"/><circle cx="1035.48" cy="626.5" r="6.2"/><circle cx="1047.29" cy="628.2" r="6.2"/><circle cx="1059.1" cy="627.2" r="6.2"/><circle cx="1070.92" cy="617.8" r="6.2"/><circle cx="1082.73" cy="615.2" r="6.2"/><circle cx="1141.79" cy="620.9" r="6.2"/></g>
<rect x="652.2" y="476" width="519.6" height="230.5" fill="none" stroke="#000" stroke-width="2"/>
<g fill="#FFFFFF"><rect x="679.89" y="474.7" width="2.4" height="2.6"/><rect x="679.89" y="705.2" width="2.4" height="2.6"/><rect x="691.7" y="474.7" width="2.4" height="2.6"/><rect x="691.7" y="705.2" width="2.4" height="2.6"/><rect x="703.51" y="474.7" width="2.4" height="2.6"/><rect x="703.51" y="705.2" width="2.4" height="2.6"/><rect x="715.33" y="474.7" width="2.4" height="2.6"/><rect x="715.33" y="705.2" width="2.4" height="2.6"/><rect x="727.14" y="474.7" width="2.4" height="2.6"/><rect x="727.14" y="705.2" width="2.4" height="2.6"/><rect x="738.95" y="474.7" width="2.4" height="2.6"/><rect x="738.95" y="705.2" width="2.4" height="2.6"/><rect x="750.76" y="474.7" width="2.4" height="2.6"/><rect x="750.76" y="705.2" width="2.4" height="2.6"/><rect x="762.58" y="474.7" width="2.4" height="2.6"/><rect x="762.58" y="705.2" width="2.4" height="2.6"/><rect x="774.39" y="474.7" width="2.4" height="2.6"/><rect x="774.39" y="705.2" width="2.4" height="2.6"/><rect x="786.2" y="474.7" width="2.4" height="2.6"/><rect x="786.2" y="705.2" width="2.4" height="2.6"/><rect x="798.02" y="474.7" width="2.4" height="2.6"/><rect x="798.02" y="705.2" width="2.4" height="2.6"/><rect x="809.83" y="474.7" width="2.4" height="2.6"/><rect x="809.83" y="705.2" width="2.4" height="2.6"/><rect x="821.64" y="474.7" width="2.4" height="2.6"/><rect x="821.64" y="705.2" width="2.4" height="2.6"/><rect x="833.46" y="474.7" width="2.4" height="2.6"/><rect x="833.46" y="705.2" width="2.4" height="2.6"/><rect x="845.27" y="474.7" width="2.4" height="2.6"/><rect x="845.27" y="705.2" width="2.4" height="2.6"/><rect x="857.08" y="474.7" width="2.4" height="2.6"/><rect x="857.08" y="705.2" width="2.4" height="2.6"/><rect x="868.89" y="474.7" width="2.4" height="2.6"/><rect x="868.89" y="705.2" width="2.4" height="2.6"/><rect x="880.71" y="474.7" width="2.4" height="2.6"/><rect x="880.71" y="705.2" width="2.4" height="2.6"/><rect x="892.52" y="474.7" width="2.4" height="2.6"/><rect x="892.52" y="705.2" width="2.4" height="2.6"/><rect x="904.33" y="474.7" width="2.4" height="2.6"/><rect x="904.33" y="705.2" width="2.4" height="2.6"/><rect x="916.15" y="474.7" width="2.4" height="2.6"/><rect x="916.15" y="705.2" width="2.4" height="2.6"/><rect x="927.96" y="474.7" width="2.4" height="2.6"/><rect x="927.96" y="705.2" width="2.4" height="2.6"/><rect x="939.77" y="474.7" width="2.4" height="2.6"/><rect x="939.77" y="705.2" width="2.4" height="2.6"/><rect x="951.59" y="474.7" width="2.4" height="2.6"/><rect x="951.59" y="705.2" width="2.4" height="2.6"/><rect x="963.4" y="474.7" width="2.4" height="2.6"/><rect x="963.4" y="705.2" width="2.4" height="2.6"/><rect x="975.21" y="474.7" width="2.4" height="2.6"/><rect x="975.21" y="705.2" width="2.4" height="2.6"/><rect x="987.02" y="474.7" width="2.4" height="2.6"/><rect x="987.02" y="705.2" width="2.4" height="2.6"/><rect x="998.84" y="474.7" width="2.4" height="2.6"/><rect x="998.84" y="705.2" width="2.4" height="2.6"/><rect x="1010.65" y="474.7" width="2.4" height="2.6"/><rect x="1010.65" y="705.2" width="2.4" height="2.6"/><rect x="1022.46" y="474.7" width="2.4" height="2.6"/><rect x="1022.46" y="705.2" width="2.4" height="2.6"/><rect x="1034.28" y="474.7" width="2.4" height="2.6"/><rect x="1034.28" y="705.2" width="2.4" height="2.6"/><rect x="1046.09" y="474.7" width="2.4" height="2.6"/><rect x="1046.09" y="705.2" width="2.4" height="2.6"/><rect x="1057.9" y="474.7" width="2.4" height="2.6"/><rect x="1057.9" y="705.2" width="2.4" height="2.6"/><rect x="1069.72" y="474.7" width="2.4" height="2.6"/><rect x="1069.72" y="705.2" width="2.4" height="2.6"/><rect x="1081.53" y="474.7" width="2.4" height="2.6"/><rect x="1081.53" y="705.2" width="2.4" height="2.6"/><rect x="1093.34" y="474.7" width="2.4" height="2.6"/><rect x="1093.34" y="705.2" width="2.4" height="2.6"/><rect x="1105.15" y="474.7" width="2.4" height="2.6"/><rect x="1105.15" y="705.2" width="2.4" height="2.6"/><rect x="1116.97" y="474.7" width="2.4" height="2.6"/><rect x="1116.97" y="705.2" width="2.4" height="2.6"/><rect x="1128.78" y="474.7" width="2.4" height="2.6"/><rect x="1128.78" y="705.2" width="2.4" height="2.6"/><rect x="1140.59" y="474.7" width="2.4" height="2.6"/><rect x="1140.59" y="705.2" width="2.4" height="2.6"/><rect x="650.9" y="695.05" width="2.6" height="2.4"/><rect x="1170.5" y="695.05" width="2.6" height="2.4"/><rect x="650.9" y="671.7" width="2.6" height="2.4"/><rect x="1170.5" y="671.7" width="2.6" height="2.4"/><rect x="650.9" y="648.35" width="2.6" height="2.4"/><rect x="1170.5" y="648.35" width="2.6" height="2.4"/><rect x="650.9" y="625" width="2.6" height="2.4"/><rect x="1170.5" y="625" width="2.6" height="2.4"/><rect x="650.9" y="601.65" width="2.6" height="2.4"/><rect x="1170.5" y="601.65" width="2.6" height="2.4"/><rect x="650.9" y="578.3" width="2.6" height="2.4"/><rect x="1170.5" y="578.3" width="2.6" height="2.4"/><rect x="650.9" y="554.95" width="2.6" height="2.4"/><rect x="1170.5" y="554.95" width="2.6" height="2.4"/><rect x="650.9" y="531.6" width="2.6" height="2.4"/><rect x="1170.5" y="531.6" width="2.6" height="2.4"/><rect x="650.9" y="508.25" width="2.6" height="2.4"/><rect x="1170.5" y="508.25" width="2.6" height="2.4"/><rect x="650.9" y="484.9" width="2.6" height="2.4"/><rect x="1170.5" y="484.9" width="2.6" height="2.4"/></g>
<rect x="1059.8" y="479.6" width="85.9" height="227.9" fill="rgb(245,255,195)" fill-opacity="0.4"/>
<text transform="translate(734.25 509.7) scale(1 1.03)" font-size="26.6" text-anchor="middle" fill="#000">z = 2.66,</text>
<text transform="translate(735 546.4) scale(1 1.03)" font-size="26.6" text-anchor="middle" fill="#000">p=0.00790</text>
<rect x="1184.3" y="422" width="521" height="54" fill="#E1E1E1"/>
<text transform="translate(1444.8 462.1) scale(1 1.03)" font-size="36.6" text-anchor="middle" fill="#1A1A1A">PI</text>
<rect x="1185" y="476" width="519.6" height="230.5" fill="#FFFFFF"/>
<path d="M1214.09 476V706.5M1225.9 476V706.5M1237.71 476V706.5M1249.53 476V706.5M1261.34 476V706.5M1273.15 476V706.5M1284.97 476V706.5M1296.78 476V706.5M1308.59 476V706.5M1320.4 476V706.5M1332.22 476V706.5M1344.03 476V706.5M1355.84 476V706.5M1367.66 476V706.5M1379.47 476V706.5M1391.28 476V706.5M1403.1 476V706.5M1414.91 476V706.5M1426.72 476V706.5M1438.53 476V706.5M1450.35 476V706.5M1462.16 476V706.5M1473.97 476V706.5M1485.79 476V706.5M1497.6 476V706.5M1509.41 476V706.5M1521.23 476V706.5M1533.04 476V706.5M1544.85 476V706.5M1556.66 476V706.5M1568.48 476V706.5M1580.29 476V706.5M1592.1 476V706.5M1603.92 476V706.5M1615.73 476V706.5M1627.54 476V706.5M1639.36 476V706.5M1651.17 476V706.5M1662.98 476V706.5M1674.79 476V706.5" stroke="#F8F8F8" stroke-width="1" fill="none"/>
<path d="M1185 696.25H1704.6M1185 672.9H1704.6M1185 649.55H1704.6M1185 626.2H1704.6M1185 602.85H1704.6M1185 579.5H1704.6M1185 556.15H1704.6M1185 532.8H1704.6M1185 509.45H1704.6M1185 486.1H1704.6" stroke="#F3F3F3" stroke-width="1" fill="none"/>
<path d="M1603.92 479.6V706.5M1615.73 479.6V706.5M1627.54 479.6V706.5M1639.36 479.6V706.5M1651.17 479.6V706.5M1662.98 479.6V706.5M1674.79 479.6V706.5" stroke="rgb(232,250,240)" stroke-width="1.8" fill="none"/>
<path d="M1592.3 696.25H1694.2M1592.3 672.9H1694.2M1592.3 649.55H1694.2M1592.3 626.2H1694.2M1592.3 602.85H1694.2M1592.3 579.5H1694.2M1592.3 556.15H1694.2M1592.3 532.8H1694.2M1592.3 509.45H1694.2M1592.3 486.1H1694.2" stroke="rgb(238,250,244)" stroke-width="1.2" fill="none"/>
<line x1="1391.28" y1="476" x2="1391.28" y2="706.5" stroke="#000" stroke-width="2"/>
<line x1="1568.48" y1="476" x2="1568.48" y2="706.5" stroke="#000" stroke-width="2"/>
<path d="M1225.9 644.4V654.4M1219.8 644.4H1232M1219.8 654.4H1232M1284.97 642.3V652.3M1278.87 642.3H1291.07M1278.87 652.3H1291.07M1320.4 633V648.8M1314.3 633H1326.5M1314.3 648.8H1326.5M1344.03 639.5V653.1M1337.93 639.5H1350.13M1337.93 653.1H1350.13M1438.53 619.7V633.8M1432.43 619.7H1444.63M1432.43 633.8H1444.63M1450.35 612.5V624.4M1444.25 612.5H1456.45M1444.25 624.4H1456.45M1462.16 639.5V652.5M1456.06 639.5H1468.26M1456.06 652.5H1468.26M1485.79 609.8V624.7M1479.69 609.8H1491.89M1479.69 624.7H1491.89M1497.6 648.7V667.7M1491.5 648.7H1503.7M1491.5 667.7H1503.7M1509.41 668.8V681.3M1503.31 668.8H1515.51M1503.31 681.3H1515.51M1533.04 646.8V665.8M1526.94 646.8H1539.14M1526.94 665.8H1539.14M1580.29 613V625M1574.19 613H1586.39M1574.19 625H1586.39" stroke="#00B9E3" stroke-width="2.2" fill="none"/>
<g fill="#00B9E3"><circle cx="1225.9" cy="649.4" r="6.2"/><circle cx="1284.97" cy="647.3" r="6.2"/><circle cx="1320.4" cy="641.2" r="6.2"/><circle cx="1344.03" cy="646.4" r="6.2"/><circle cx="1438.53" cy="627.1" r="6.2"/><circle cx="1450.35" cy="618.3" r="6.2"/><circle cx="1462.16" cy="646.1" r="6.2"/><circle cx="1485.79" cy="617" r="6.2"/><circle cx="1497.6" cy="658.4" r="6.2"/><circle cx="1509.41" cy="675.1" r="6.2"/><circle cx="1521.23" cy="659.5" r="6.2"/><circle cx="1533.04" cy="656.5" r="6.2"/><circle cx="1568.48" cy="628.2" r="6.2"/><circle cx="1580.29" cy="619" r="6.2"/><circle cx="1592.1" cy="620.5" r="6.2"/><circle cx="1603.92" cy="613.5" r="6.2"/><circle cx="1615.73" cy="619.7" r="6.2"/><circle cx="1662.98" cy="636" r="6.2"/><circle cx="1674.79" cy="631" r="6.2"/></g>
<rect x="1185" y="476" width="519.6" height="230.5" fill="none" stroke="#000" stroke-width="2"/>
<g fill="#FFFFFF"><rect x="1212.89" y="474.7" width="2.4" height="2.6"/><rect x="1212.89" y="705.2" width="2.4" height="2.6"/><rect x="1224.7" y="474.7" width="2.4" height="2.6"/><rect x="1224.7" y="705.2" width="2.4" height="2.6"/><rect x="1236.51" y="474.7" width="2.4" height="2.6"/><rect x="1236.51" y="705.2" width="2.4" height="2.6"/><rect x="1248.33" y="474.7" width="2.4" height="2.6"/><rect x="1248.33" y="705.2" width="2.4" height="2.6"/><rect x="1260.14" y="474.7" width="2.4" height="2.6"/><rect x="1260.14" y="705.2" width="2.4" height="2.6"/><rect x="1271.95" y="474.7" width="2.4" height="2.6"/><rect x="1271.95" y="705.2" width="2.4" height="2.6"/><rect x="1283.77" y="474.7" width="2.4" height="2.6"/><rect x="1283.77" y="705.2" width="2.4" height="2.6"/><rect x="1295.58" y="474.7" width="2.4" height="2.6"/><rect x="1295.58" y="705.2" width="2.4" height="2.6"/><rect x="1307.39" y="474.7" width="2.4" height="2.6"/><rect x="1307.39" y="705.2" width="2.4" height="2.6"/><rect x="1319.2" y="474.7" width="2.4" height="2.6"/><rect x="1319.2" y="705.2" width="2.4" height="2.6"/><rect x="1331.02" y="474.7" width="2.4" height="2.6"/><rect x="1331.02" y="705.2" width="2.4" height="2.6"/><rect x="1342.83" y="474.7" width="2.4" height="2.6"/><rect x="1342.83" y="705.2" width="2.4" height="2.6"/><rect x="1354.64" y="474.7" width="2.4" height="2.6"/><rect x="1354.64" y="705.2" width="2.4" height="2.6"/><rect x="1366.46" y="474.7" width="2.4" height="2.6"/><rect x="1366.46" y="705.2" width="2.4" height="2.6"/><rect x="1378.27" y="474.7" width="2.4" height="2.6"/><rect x="1378.27" y="705.2" width="2.4" height="2.6"/><rect x="1390.08" y="474.7" width="2.4" height="2.6"/><rect x="1390.08" y="705.2" width="2.4" height="2.6"/><rect x="1401.89" y="474.7" width="2.4" height="2.6"/><rect x="1401.89" y="705.2" width="2.4" height="2.6"/><rect x="1413.71" y="474.7" width="2.4" height="2.6"/><rect x="1413.71" y="705.2" width="2.4" height="2.6"/><rect x="1425.52" y="474.7" width="2.4" height="2.6"/><rect x="1425.52" y="705.2" width="2.4" height="2.6"/><rect x="1437.33" y="474.7" width="2.4" height="2.6"/><rect x="1437.33" y="705.2" width="2.4" height="2.6"/><rect x="1449.15" y="474.7" width="2.4" height="2.6"/><rect x="1449.15" y="705.2" width="2.4" height="2.6"/><rect x="1460.96" y="474.7" width="2.4" height="2.6"/><rect x="1460.96" y="705.2" width="2.4" height="2.6"/><rect x="1472.77" y="474.7" width="2.4" height="2.6"/><rect x="1472.77" y="705.2" width="2.4" height="2.6"/><rect x="1484.59" y="474.7" width="2.4" height="2.6"/><rect x="1484.59" y="705.2" width="2.4" height="2.6"/><rect x="1496.4" y="474.7" width="2.4" height="2.6"/><rect x="1496.4" y="705.2" width="2.4" height="2.6"/><rect x="1508.21" y="474.7" width="2.4" height="2.6"/><rect x="1508.21" y="705.2" width="2.4" height="2.6"/><rect x="1520.03" y="474.7" width="2.4" height="2.6"/><rect x="1520.03" y="705.2" width="2.4" height="2.6"/><rect x="1531.84" y="474.7" width="2.4" height="2.6"/><rect x="1531.84" y="705.2" width="2.4" height="2.6"/><rect x="1543.65" y="474.7" width="2.4" height="2.6"/><rect x="1543.65" y="705.2" width="2.4" height="2.6"/><rect x="1555.46" y="474.7" width="2.4" height="2.6"/><rect x="1555.46" y="705.2" width="2.4" height="2.6"/><rect x="1567.28" y="474.7" width="2.4" height="2.6"/><rect x="1567.28" y="705.2" width="2.4" height="2.6"/><rect x="1579.09" y="474.7" width="2.4" height="2.6"/><rect x="1579.09" y="705.2" width="2.4" height="2.6"/><rect x="1590.9" y="474.7" width="2.4" height="2.6"/><rect x="1590.9" y="705.2" width="2.4" height="2.6"/><rect x="1602.72" y="474.7" width="2.4" height="2.6"/><rect x="1602.72" y="705.2" width="2.4" height="2.6"/><rect x="1614.53" y="474.7" width="2.4" height="2.6"/><rect x="1614.53" y="705.2" width="2.4" height="2.6"/><rect x="1626.34" y="474.7" width="2.4" height="2.6"/><rect x="1626.34" y="705.2" width="2.4" height="2.6"/><rect x="1638.15" y="474.7" width="2.4" height="2.6"/><rect x="1638.15" y="705.2" width="2.4" height="2.6"/><rect x="1649.97" y="474.7" width="2.4" height="2.6"/><rect x="1649.97" y="705.2" width="2.4" height="2.6"/><rect x="1661.78" y="474.7" width="2.4" height="2.6"/><rect x="1661.78" y="705.2" width="2.4" height="2.6"/><rect x="1673.59" y="474.7" width="2.4" height="2.6"/><rect x="1673.59" y="705.2" width="2.4" height="2.6"/><rect x="1183.7" y="695.05" width="2.6" height="2.4"/><rect x="1703.3" y="695.05" width="2.6" height="2.4"/><rect x="1183.7" y="671.7" width="2.6" height="2.4"/><rect x="1703.3" y="671.7" width="2.6" height="2.4"/><rect x="1183.7" y="648.35" width="2.6" height="2.4"/><rect x="1703.3" y="648.35" width="2.6" height="2.4"/><rect x="1183.7" y="625" width="2.6" height="2.4"/><rect x="1703.3" y="625" width="2.6" height="2.4"/><rect x="1183.7" y="601.65" width="2.6" height="2.4"/><rect x="1703.3" y="601.65" width="2.6" height="2.4"/><rect x="1183.7" y="578.3" width="2.6" height="2.4"/><rect x="1703.3" y="578.3" width="2.6" height="2.4"/><rect x="1183.7" y="554.95" width="2.6" height="2.4"/><rect x="1703.3" y="554.95" width="2.6" height="2.4"/><rect x="1183.7" y="531.6" width="2.6" height="2.4"/><rect x="1703.3" y="531.6" width="2.6" height="2.4"/><rect x="1183.7" y="508.25" width="2.6" height="2.4"/><rect x="1703.3" y="508.25" width="2.6" height="2.4"/><rect x="1183.7" y="484.9" width="2.6" height="2.4"/><rect x="1703.3" y="484.9" width="2.6" height="2.4"/></g>
<rect x="1592.3" y="479.6" width="101.9" height="227.9" fill="rgb(245,255,195)" fill-opacity="0.4"/>
<text transform="translate(1261.6 504.6) scale(1 1.03)" font-size="26.6" text-anchor="middle" fill="#000">z = 2.06,</text>
<text transform="translate(1262 541.8) scale(1 1.03)" font-size="26.6" text-anchor="middle" fill="#000">p=0.0397</text>
<rect x="118.8" y="720.6" width="521" height="53.9" fill="#E1E1E1"/>
<text transform="translate(379.3 760.7) scale(1 1.03)" font-size="36.6" text-anchor="middle" fill="#1A1A1A">BH</text>
<rect x="119.5" y="774.5" width="519.6" height="230.7" fill="#FFFFFF"/>
<path d="M148.49 774.5V1005.2M160.3 774.5V1005.2M172.11 774.5V1005.2M183.93 774.5V1005.2M195.74 774.5V1005.2M207.55 774.5V1005.2M219.37 774.5V1005.2M231.18 774.5V1005.2M242.99 774.5V1005.2M254.8 774.5V1005.2M266.62 774.5V1005.2M278.43 774.5V1005.2M290.24 774.5V1005.2M302.06 774.5V1005.2M313.87 774.5V1005.2M325.68 774.5V1005.2M337.5 774.5V1005.2M349.31 774.5V1005.2M361.12 774.5V1005.2M372.93 774.5V1005.2M384.75 774.5V1005.2M396.56 774.5V1005.2M408.37 774.5V1005.2M420.19 774.5V1005.2M432 774.5V1005.2M443.81 774.5V1005.2M455.62 774.5V1005.2M467.44 774.5V1005.2M479.25 774.5V1005.2M491.06 774.5V1005.2M502.88 774.5V1005.2M514.69 774.5V1005.2M526.5 774.5V1005.2M538.32 774.5V1005.2M550.13 774.5V1005.2M561.94 774.5V1005.2M573.76 774.5V1005.2M585.57 774.5V1005.2M597.38 774.5V1005.2M609.19 774.5V1005.2" stroke="#F8F8F8" stroke-width="1" fill="none"/>
<path d="M119.5 994.9H639.1M119.5 971.55H639.1M119.5 948.2H639.1M119.5 924.85H639.1M119.5 901.5H639.1M119.5 878.15H639.1M119.5 854.8H639.1M119.5 831.45H639.1M119.5 808.1H639.1M119.5 784.75H639.1" stroke="#F3F3F3" stroke-width="1" fill="none"/>
<path d="M526.5 778.1V1005.2M538.32 778.1V1005.2M550.13 778.1V1005.2M561.94 778.1V1005.2M573.76 778.1V1005.2M585.57 778.1V1005.2M597.38 778.1V1005.2M609.19 778.1V1005.2" stroke="rgb(232,250,240)" stroke-width="1.8" fill="none"/>
<path d="M523.6 994.9H614.2M523.6 971.55H614.2M523.6 948.2H614.2M523.6 924.85H614.2M523.6 901.5H614.2M523.6 878.15H614.2M523.6 854.8H614.2M523.6 831.45H614.2M523.6 808.1H614.2M523.6 784.75H614.2" stroke="rgb(238,250,244)" stroke-width="1.2" fill="none"/>
<line x1="325.68" y1="774.5" x2="325.68" y2="1005.2" stroke="#000" stroke-width="2"/>
<line x1="502.88" y1="774.5" x2="502.88" y2="1005.2" stroke="#000" stroke-width="2"/>
<path d="M148.49 949.75V959.75M142.39 949.75H154.59M142.39 959.75H154.59M219.37 941.85V953.25M213.27 941.85H225.47M213.27 953.25H225.47M254.8 941.05V956.25M248.7 941.05H260.9M248.7 956.25H260.9M278.43 936.85V949.35M272.33 936.85H284.53M272.33 949.35H284.53M302.06 961.35V980.05M295.96 961.35H308.16M295.96 980.05H308.16M372.93 927.55V940.85M366.83 927.55H379.03M366.83 940.85H379.03M384.75 930.55V943.75M378.65 930.55H390.85M378.65 943.75H390.85M420.19 928.05V942.55M414.09 928.05H426.29M414.09 942.55H426.29M443.81 961.75V976.35M437.71 961.75H449.91M437.71 976.35H449.91M455.62 918.65V940.05M449.52 918.65H461.73M449.52 940.05H461.73" stroke="#619CFF" stroke-width="2.2" fill="none"/>
<g fill="#619CFF"><circle cx="148.49" cy="954.75" r="6.2"/><circle cx="160.3" cy="959.45" r="6.2"/><circle cx="219.37" cy="947.65" r="6.2"/><circle cx="254.8" cy="948.65" r="6.2"/><circle cx="278.43" cy="943.25" r="6.2"/><circle cx="302.06" cy="971.05" r="6.2"/><circle cx="372.93" cy="934.25" r="6.2"/><circle cx="384.75" cy="937.05" r="6.2"/><circle cx="420.19" cy="935.35" r="6.2"/><circle cx="443.81" cy="969.75" r="6.2"/><circle cx="455.62" cy="929.75" r="6.2"/><circle cx="502.88" cy="919.65" r="6.2"/><circle cx="514.69" cy="926.35" r="6.2"/><circle cx="526.5" cy="919.95" r="6.2"/><circle cx="538.32" cy="922.45" r="6.2"/><circle cx="550.13" cy="915.25" r="6.2"/><circle cx="597.38" cy="933.85" r="6.2"/><circle cx="609.19" cy="925.85" r="6.2"/></g>
<rect x="119.5" y="774.5" width="519.6" height="230.7" fill="none" stroke="#000" stroke-width="2"/>
<g fill="#FFFFFF"><rect x="147.29" y="773.2" width="2.4" height="2.6"/><rect x="147.29" y="1003.9" width="2.4" height="2.6"/><rect x="159.1" y="773.2" width="2.4" height="2.6"/><rect x="159.1" y="1003.9" width="2.4" height="2.6"/><rect x="170.91" y="773.2" width="2.4" height="2.6"/><rect x="170.91" y="1003.9" width="2.4" height="2.6"/><rect x="182.73" y="773.2" width="2.4" height="2.6"/><rect x="182.73" y="1003.9" width="2.4" height="2.6"/><rect x="194.54" y="773.2" width="2.4" height="2.6"/><rect x="194.54" y="1003.9" width="2.4" height="2.6"/><rect x="206.35" y="773.2" width="2.4" height="2.6"/><rect x="206.35" y="1003.9" width="2.4" height="2.6"/><rect x="218.17" y="773.2" width="2.4" height="2.6"/><rect x="218.17" y="1003.9" width="2.4" height="2.6"/><rect x="229.98" y="773.2" width="2.4" height="2.6"/><rect x="229.98" y="1003.9" width="2.4" height="2.6"/><rect x="241.79" y="773.2" width="2.4" height="2.6"/><rect x="241.79" y="1003.9" width="2.4" height="2.6"/><rect x="253.6" y="773.2" width="2.4" height="2.6"/><rect x="253.6" y="1003.9" width="2.4" height="2.6"/><rect x="265.42" y="773.2" width="2.4" height="2.6"/><rect x="265.42" y="1003.9" width="2.4" height="2.6"/><rect x="277.23" y="773.2" width="2.4" height="2.6"/><rect x="277.23" y="1003.9" width="2.4" height="2.6"/><rect x="289.04" y="773.2" width="2.4" height="2.6"/><rect x="289.04" y="1003.9" width="2.4" height="2.6"/><rect x="300.86" y="773.2" width="2.4" height="2.6"/><rect x="300.86" y="1003.9" width="2.4" height="2.6"/><rect x="312.67" y="773.2" width="2.4" height="2.6"/><rect x="312.67" y="1003.9" width="2.4" height="2.6"/><rect x="324.48" y="773.2" width="2.4" height="2.6"/><rect x="324.48" y="1003.9" width="2.4" height="2.6"/><rect x="336.3" y="773.2" width="2.4" height="2.6"/><rect x="336.3" y="1003.9" width="2.4" height="2.6"/><rect x="348.11" y="773.2" width="2.4" height="2.6"/><rect x="348.11" y="1003.9" width="2.4" height="2.6"/><rect x="359.92" y="773.2" width="2.4" height="2.6"/><rect x="359.92" y="1003.9" width="2.4" height="2.6"/><rect x="371.73" y="773.2" width="2.4" height="2.6"/><rect x="371.73" y="1003.9" width="2.4" height="2.6"/><rect x="383.55" y="773.2" width="2.4" height="2.6"/><rect x="383.55" y="1003.9" width="2.4" height="2.6"/><rect x="395.36" y="773.2" width="2.4" height="2.6"/><rect x="395.36" y="1003.9" width="2.4" height="2.6"/><rect x="407.17" y="773.2" width="2.4" height="2.6"/><rect x="407.17" y="1003.9" width="2.4" height="2.6"/><rect x="418.99" y="773.2" width="2.4" height="2.6"/><rect x="418.99" y="1003.9" width="2.4" height="2.6"/><rect x="430.8" y="773.2" width="2.4" height="2.6"/><rect x="430.8" y="1003.9" width="2.4" height="2.6"/><rect x="442.61" y="773.2" width="2.4" height="2.6"/><rect x="442.61" y="1003.9" width="2.4" height="2.6"/><rect x="454.43" y="773.2" width="2.4" height="2.6"/><rect x="454.43" y="1003.9" width="2.4" height="2.6"/><rect x="466.24" y="773.2" width="2.4" height="2.6"/><rect x="466.24" y="1003.9" width="2.4" height="2.6"/><rect x="478.05" y="773.2" width="2.4" height="2.6"/><rect x="478.05" y="1003.9" width="2.4" height="2.6"/><rect x="489.86" y="773.2" width="2.4" height="2.6"/><rect x="489.86" y="1003.9" width="2.4" height="2.6"/><rect x="501.68" y="773.2" width="2.4" height="2.6"/><rect x="501.68" y="1003.9" width="2.4" height="2.6"/><rect x="513.49" y="773.2" width="2.4" height="2.6"/><rect x="513.49" y="1003.9" width="2.4" height="2.6"/><rect x="525.3" y="773.2" width="2.4" height="2.6"/><rect x="525.3" y="1003.9" width="2.4" height="2.6"/><rect x="537.12" y="773.2" width="2.4" height="2.6"/><rect x="537.12" y="1003.9" width="2.4" height="2.6"/><rect x="548.93" y="773.2" width="2.4" height="2.6"/><rect x="548.93" y="1003.9" width="2.4" height="2.6"/><rect x="560.74" y="773.2" width="2.4" height="2.6"/><rect x="560.74" y="1003.9" width="2.4" height="2.6"/><rect x="572.56" y="773.2" width="2.4" height="2.6"/><rect x="572.56" y="1003.9" width="2.4" height="2.6"/><rect x="584.37" y="773.2" width="2.4" height="2.6"/><rect x="584.37" y="1003.9" width="2.4" height="2.6"/><rect x="596.18" y="773.2" width="2.4" height="2.6"/><rect x="596.18" y="1003.9" width="2.4" height="2.6"/><rect x="607.99" y="773.2" width="2.4" height="2.6"/><rect x="607.99" y="1003.9" width="2.4" height="2.6"/><rect x="118.2" y="993.7" width="2.6" height="2.4"/><rect x="637.8" y="993.7" width="2.6" height="2.4"/><rect x="118.2" y="970.35" width="2.6" height="2.4"/><rect x="637.8" y="970.35" width="2.6" height="2.4"/><rect x="118.2" y="947" width="2.6" height="2.4"/><rect x="637.8" y="947" width="2.6" height="2.4"/><rect x="118.2" y="923.65" width="2.6" height="2.4"/><rect x="637.8" y="923.65" width="2.6" height="2.4"/><rect x="118.2" y="900.3" width="2.6" height="2.4"/><rect x="637.8" y="900.3" width="2.6" height="2.4"/><rect x="118.2" y="876.95" width="2.6" height="2.4"/><rect x="637.8" y="876.95" width="2.6" height="2.4"/><rect x="118.2" y="853.6" width="2.6" height="2.4"/><rect x="637.8" y="853.6" width="2.6" height="2.4"/><rect x="118.2" y="830.25" width="2.6" height="2.4"/><rect x="637.8" y="830.25" width="2.6" height="2.4"/><rect x="118.2" y="806.9" width="2.6" height="2.4"/><rect x="637.8" y="806.9" width="2.6" height="2.4"/><rect x="118.2" y="783.55" width="2.6" height="2.4"/><rect x="637.8" y="783.55" width="2.6" height="2.4"/></g>
<rect x="523.6" y="778.1" width="90.6" height="228.1" fill="rgb(245,255,195)" fill-opacity="0.4"/>
<text transform="translate(216 801.5) scale(1 1.03)" font-size="26.6" text-anchor="middle" fill="#000">z = 3.48,</text>
<text transform="translate(216.5 838.1) scale(1 1.03)" font-size="26.6" text-anchor="middle" fill="#000">p=0.000493</text>
<rect x="651.5" y="720.6" width="521" height="53.9" fill="#E1E1E1"/>
<text transform="translate(912 760.7) scale(1 1.03)" font-size="36.6" text-anchor="middle" fill="#1A1A1A">WI</text>
<rect x="652.2" y="774.5" width="519.6" height="230.7" fill="#FFFFFF"/>
<path d="M681.09 774.5V1005.2M692.9 774.5V1005.2M704.71 774.5V1005.2M716.53 774.5V1005.2M728.34 774.5V1005.2M740.15 774.5V1005.2M751.97 774.5V1005.2M763.78 774.5V1005.2M775.59 774.5V1005.2M787.4 774.5V1005.2M799.22 774.5V1005.2M811.03 774.5V1005.2M822.84 774.5V1005.2M834.66 774.5V1005.2M846.47 774.5V1005.2M858.28 774.5V1005.2M870.1 774.5V1005.2M881.91 774.5V1005.2M893.72 774.5V1005.2M905.53 774.5V1005.2M917.35 774.5V1005.2M929.16 774.5V1005.2M940.97 774.5V1005.2M952.79 774.5V1005.2M964.6 774.5V1005.2M976.41 774.5V1005.2M988.22 774.5V1005.2M1000.04 774.5V1005.2M1011.85 774.5V1005.2M1023.66 774.5V1005.2M1035.48 774.5V1005.2M1047.29 774.5V1005.2M1059.1 774.5V1005.2M1070.92 774.5V1005.2M1082.73 774.5V1005.2M1094.54 774.5V1005.2M1106.36 774.5V1005.2M1118.17 774.5V1005.2M1129.98 774.5V1005.2M1141.79 774.5V1005.2" stroke="#F8F8F8" stroke-width="1" fill="none"/>
<path d="M652.2 994.9H1171.8M652.2 971.55H1171.8M652.2 948.2H1171.8M652.2 924.85H1171.8M652.2 901.5H1171.8M652.2 878.15H1171.8M652.2 854.8H1171.8M652.2 831.45H1171.8M652.2 808.1H1171.8M652.2 784.75H1171.8" stroke="#F3F3F3" stroke-width="1" fill="none"/>
<path d="M1070.92 778.1V1005.2M1082.73 778.1V1005.2M1094.54 778.1V1005.2M1106.36 778.1V1005.2M1118.17 778.1V1005.2M1129.98 778.1V1005.2M1141.79 778.1V1005.2" stroke="rgb(232,250,240)" stroke-width="1.8" fill="none"/>
<path d="M1059.5 994.9H1144.9M1059.5 971.55H1144.9M1059.5 948.2H1144.9M1059.5 924.85H1144.9M1059.5 901.5H1144.9M1059.5 878.15H1144.9M1059.5 854.8H1144.9M1059.5 831.45H1144.9M1059.5 808.1H1144.9M1059.5 784.75H1144.9" stroke="rgb(238,250,244)" stroke-width="1.2" fill="none"/>
<line x1="858.28" y1="774.5" x2="858.28" y2="1005.2" stroke="#000" stroke-width="2"/>
<line x1="1035.48" y1="774.5" x2="1035.48" y2="1005.2" stroke="#000" stroke-width="2"/>
<path d="M681.09 943.45V958.75M674.99 943.45H687.19M674.99 958.75H687.19M692.9 947.45V959.45M686.8 947.45H699M686.8 959.45H699M751.97 944.65V954.65M745.87 944.65H758.07M745.87 954.65H758.07M787.4 937.05V957.95M781.3 937.05H793.5M781.3 957.95H793.5M834.66 944.05V973.15M828.56 944.05H840.76M828.56 973.15H840.76M905.53 923.95V937.25M899.43 923.95H911.63M899.43 937.25H911.63M917.35 906.45V920.85M911.25 906.45H923.45M911.25 920.85H923.45M952.79 930.45V943.95M946.69 930.45H958.89M946.69 943.95H958.89M988.22 918.85V928.85M982.12 918.85H994.32M982.12 928.85H994.32M1035.48 918.85V928.85M1029.38 918.85H1041.58M1029.38 928.85H1041.58M1047.29 910.85V922.85M1041.19 910.85H1053.39M1041.19 922.85H1053.39M1129.98 912.25V924.25M1123.88 912.25H1136.08M1123.88 924.25H1136.08M1141.79 904.95V920.45M1135.69 904.95H1147.89M1135.69 920.45H1147.89" stroke="#DB72FB" stroke-width="2.2" fill="none"/>
<g fill="#DB72FB"><circle cx="681.09" cy="951.15" r="6.2"/><circle cx="692.9" cy="953.45" r="6.2"/><circle cx="751.97" cy="949.65" r="6.2"/><circle cx="787.4" cy="947.95" r="6.2"/><circle cx="811.03" cy="939.85" r="6.2"/><circle cx="834.66" cy="958.75" r="6.2"/><circle cx="905.53" cy="930.55" r="6.2"/><circle cx="917.35" cy="914.25" r="6.2"/><circle cx="952.79" cy="937.25" r="6.2"/><circle cx="988.22" cy="923.85" r="6.2"/><circle cx="1035.48" cy="923.85" r="6.2"/><circle cx="1047.29" cy="916.85" r="6.2"/><circle cx="1059.1" cy="918.85" r="6.2"/><circle cx="1070.92" cy="931.05" r="6.2"/><circle cx="1082.73" cy="908.85" r="6.2"/><circle cx="1129.98" cy="918.25" r="6.2"/><circle cx="1141.79" cy="912.65" r="6.2"/></g>
<rect x="652.2" y="774.5" width="519.6" height="230.7" fill="none" stroke="#000" stroke-width="2"/>
<g fill="#FFFFFF"><rect x="679.89" y="773.2" width="2.4" height="2.6"/><rect x="679.89" y="1003.9" width="2.4" height="2.6"/><rect x="691.7" y="773.2" width="2.4" height="2.6"/><rect x="691.7" y="1003.9" width="2.4" height="2.6"/><rect x="703.51" y="773.2" width="2.4" height="2.6"/><rect x="703.51" y="1003.9" width="2.4" height="2.6"/><rect x="715.33" y="773.2" width="2.4" height="2.6"/><rect x="715.33" y="1003.9" width="2.4" height="2.6"/><rect x="727.14" y="773.2" width="2.4" height="2.6"/><rect x="727.14" y="1003.9" width="2.4" height="2.6"/><rect x="738.95" y="773.2" width="2.4" height="2.6"/><rect x="738.95" y="1003.9" width="2.4" height="2.6"/><rect x="750.76" y="773.2" width="2.4" height="2.6"/><rect x="750.76" y="1003.9" width="2.4" height="2.6"/><rect x="762.58" y="773.2" width="2.4" height="2.6"/><rect x="762.58" y="1003.9" width="2.4" height="2.6"/><rect x="774.39" y="773.2" width="2.4" height="2.6"/><rect x="774.39" y="1003.9" width="2.4" height="2.6"/><rect x="786.2" y="773.2" width="2.4" height="2.6"/><rect x="786.2" y="1003.9" width="2.4" height="2.6"/><rect x="798.02" y="773.2" width="2.4" height="2.6"/><rect x="798.02" y="1003.9" width="2.4" height="2.6"/><rect x="809.83" y="773.2" width="2.4" height="2.6"/><rect x="809.83" y="1003.9" width="2.4" height="2.6"/><rect x="821.64" y="773.2" width="2.4" height="2.6"/><rect x="821.64" y="1003.9" width="2.4" height="2.6"/><rect x="833.46" y="773.2" width="2.4" height="2.6"/><rect x="833.46" y="1003.9" width="2.4" height="2.6"/><rect x="845.27" y="773.2" width="2.4" height="2.6"/><rect x="845.27" y="1003.9" width="2.4" height="2.6"/><rect x="857.08" y="773.2" width="2.4" height="2.6"/><rect x="857.08" y="1003.9" width="2.4" height="2.6"/><rect x="868.89" y="773.2" width="2.4" height="2.6"/><rect x="868.89" y="1003.9" width="2.4" height="2.6"/><rect x="880.71" y="773.2" width="2.4" height="2.6"/><rect x="880.71" y="1003.9" width="2.4" height="2.6"/><rect x="892.52" y="773.2" width="2.4" height="2.6"/><rect x="892.52" y="1003.9" width="2.4" height="2.6"/><rect x="904.33" y="773.2" width="2.4" height="2.6"/><rect x="904.33" y="1003.9" width="2.4" height="2.6"/><rect x="916.15" y="773.2" width="2.4" height="2.6"/><rect x="916.15" y="1003.9" width="2.4" height="2.6"/><rect x="927.96" y="773.2" width="2.4" height="2.6"/><rect x="927.96" y="1003.9" width="2.4" height="2.6"/><rect x="939.77" y="773.2" width="2.4" height="2.6"/><rect x="939.77" y="1003.9" width="2.4" height="2.6"/><rect x="951.59" y="773.2" width="2.4" height="2.6"/><rect x="951.59" y="1003.9" width="2.4" height="2.6"/><rect x="963.4" y="773.2" width="2.4" height="2.6"/><rect x="963.4" y="1003.9" width="2.4" height="2.6"/><rect x="975.21" y="773.2" width="2.4" height="2.6"/><rect x="975.21" y="1003.9" width="2.4" height="2.6"/><rect x="987.02" y="773.2" width="2.4" height="2.6"/><rect x="987.02" y="1003.9" width="2.4" height="2.6"/><rect x="998.84" y="773.2" width="2.4" height="2.6"/><rect x="998.84" y="1003.9" width="2.4" height="2.6"/><rect x="1010.65" y="773.2" width="2.4" height="2.6"/><rect x="1010.65" y="1003.9" width="2.4" height="2.6"/><rect x="1022.46" y="773.2" width="2.4" height="2.6"/><rect x="1022.46" y="1003.9" width="2.4" height="2.6"/><rect x="1034.28" y="773.2" width="2.4" height="2.6"/><rect x="1034.28" y="1003.9" width="2.4" height="2.6"/><rect x="1046.09" y="773.2" width="2.4" height="2.6"/><rect x="1046.09" y="1003.9" width="2.4" height="2.6"/><rect x="1057.9" y="773.2" width="2.4" height="2.6"/><rect x="1057.9" y="1003.9" width="2.4" height="2.6"/><rect x="1069.72" y="773.2" width="2.4" height="2.6"/><rect x="1069.72" y="1003.9" width="2.4" height="2.6"/><rect x="1081.53" y="773.2" width="2.4" height="2.6"/><rect x="1081.53" y="1003.9" width="2.4" height="2.6"/><rect x="1093.34" y="773.2" width="2.4" height="2.6"/><rect x="1093.34" y="1003.9" width="2.4" height="2.6"/><rect x="1105.15" y="773.2" width="2.4" height="2.6"/><rect x="1105.15" y="1003.9" width="2.4" height="2.6"/><rect x="1116.97" y="773.2" width="2.4" height="2.6"/><rect x="1116.97" y="1003.9" width="2.4" height="2.6"/><rect x="1128.78" y="773.2" width="2.4" height="2.6"/><rect x="1128.78" y="1003.9" width="2.4" height="2.6"/><rect x="1140.59" y="773.2" width="2.4" height="2.6"/><rect x="1140.59" y="1003.9" width="2.4" height="2.6"/><rect x="650.9" y="993.7" width="2.6" height="2.4"/><rect x="1170.5" y="993.7" width="2.6" height="2.4"/><rect x="650.9" y="970.35" width="2.6" height="2.4"/><rect x="1170.5" y="970.35" width="2.6" height="2.4"/><rect x="650.9" y="947" width="2.6" height="2.4"/><rect x="1170.5" y="947" width="2.6" height="2.4"/><rect x="650.9" y="923.65" width="2.6" height="2.4"/><rect x="1170.5" y="923.65" width="2.6" height="2.4"/><rect x="650.9" y="900.3" width="2.6" height="2.4"/><rect x="1170.5" y="900.3" width="2.6" height="2.4"/><rect x="650.9" y="876.95" width="2.6" height="2.4"/><rect x="1170.5" y="876.95" width="2.6" height="2.4"/><rect x="650.9" y="853.6" width="2.6" height="2.4"/><rect x="1170.5" y="853.6" width="2.6" height="2.4"/><rect x="650.9" y="830.25" width="2.6" height="2.4"/><rect x="1170.5" y="830.25" width="2.6" height="2.4"/><rect x="650.9" y="806.9" width="2.6" height="2.4"/><rect x="1170.5" y="806.9" width="2.6" height="2.4"/><rect x="650.9" y="783.55" width="2.6" height="2.4"/><rect x="1170.5" y="783.55" width="2.6" height="2.4"/></g>
<rect x="1059.5" y="778.1" width="85.4" height="228.1" fill="rgb(245,255,195)" fill-opacity="0.4"/>
<text transform="translate(745.5 801.6) scale(1 1.03)" font-size="26.6" text-anchor="middle" fill="#000">z = 3.75,</text>
<text transform="translate(742.5 838.5) scale(1 1.03)" font-size="26.6" text-anchor="middle" fill="#000">p=0.000178</text>
<rect x="1184.3" y="720.6" width="521" height="53.9" fill="#E1E1E1"/>
<text transform="translate(1444.8 760.7) scale(1 1.03)" font-size="36.6" text-anchor="middle" fill="#1A1A1A">SLI</text>
<rect x="1185" y="774.5" width="519.6" height="230.7" fill="#FFFFFF"/>
<path d="M1214.09 774.5V1005.2M1225.9 774.5V1005.2M1237.71 774.5V1005.2M1249.53 774.5V1005.2M1261.34 774.5V1005.2M1273.15 774.5V1005.2M1284.97 774.5V1005.2M1296.78 774.5V1005.2M1308.59 774.5V1005.2M1320.4 774.5V1005.2M1332.22 774.5V1005.2M1344.03 774.5V1005.2M1355.84 774.5V1005.2M1367.66 774.5V1005.2M1379.47 774.5V1005.2M1391.28 774.5V1005.2M1403.1 774.5V1005.2M1414.91 774.5V1005.2M1426.72 774.5V1005.2M1438.53 774.5V1005.2M1450.35 774.5V1005.2M1462.16 774.5V1005.2M1473.97 774.5V1005.2M1485.79 774.5V1005.2M1497.6 774.5V1005.2M1509.41 774.5V1005.2M1521.23 774.5V1005.2M1533.04 774.5V1005.2M1544.85 774.5V1005.2M1556.66 774.5V1005.2M1568.48 774.5V1005.2M1580.29 774.5V1005.2M1592.1 774.5V1005.2M1603.92 774.5V1005.2M1615.73 774.5V1005.2M1627.54 774.5V1005.2M1639.36 774.5V1005.2M1651.17 774.5V1005.2M1662.98 774.5V1005.2M1674.79 774.5V1005.2" stroke="#F8F8F8" stroke-width="1" fill="none"/>
<path d="M1185 994.9H1704.6M1185 971.55H1704.6M1185 948.2H1704.6M1185 924.85H1704.6M1185 901.5H1704.6M1185 878.15H1704.6M1185 854.8H1704.6M1185 831.45H1704.6M1185 808.1H1704.6M1185 784.75H1704.6" stroke="#F3F3F3" stroke-width="1" fill="none"/>
<path d="M1603.92 778.1V1005.2M1615.73 778.1V1005.2M1627.54 778.1V1005.2M1639.36 778.1V1005.2M1651.17 778.1V1005.2M1662.98 778.1V1005.2M1674.79 778.1V1005.2" stroke="rgb(232,250,240)" stroke-width="1.8" fill="none"/>
<path d="M1594 994.9H1686.4M1594 971.55H1686.4M1594 948.2H1686.4M1594 924.85H1686.4M1594 901.5H1686.4M1594 878.15H1686.4M1594 854.8H1686.4M1594 831.45H1686.4M1594 808.1H1686.4M1594 784.75H1686.4" stroke="rgb(238,250,244)" stroke-width="1.2" fill="none"/>
<line x1="1391.28" y1="774.5" x2="1391.28" y2="1005.2" stroke="#000" stroke-width="2"/>
<line x1="1568.48" y1="774.5" x2="1568.48" y2="1005.2" stroke="#000" stroke-width="2"/>
<path d="M1214.09 916.85V940.85M1207.99 916.85H1220.19M1207.99 940.85H1220.19M1225.9 931.85V943.85M1219.8 931.85H1232M1219.8 943.85H1232M1284.97 933.65V953.05M1278.87 933.65H1291.07M1278.87 953.05H1291.07M1320.4 898.85V919.95M1314.3 898.85H1326.5M1314.3 919.95H1326.5M1344.03 927.85V941.85M1337.93 927.85H1350.13M1337.93 941.85H1350.13M1367.66 925.45V942.85M1361.56 925.45H1373.76M1361.56 942.85H1373.76M1450.35 869.85V884.85M1444.25 869.85H1456.45M1444.25 884.85H1456.45M1462.16 952.75V973.15M1456.06 952.75H1468.26M1456.06 973.15H1468.26M1485.79 903.45V920.85M1479.69 903.45H1491.89M1479.69 920.85H1491.89M1497.6 922.85V937.55M1491.5 922.85H1503.7M1491.5 937.55H1503.7M1509.41 939.05V952.25M1503.31 939.05H1515.51M1503.31 952.25H1515.51M1521.23 887.85V899.85M1515.13 887.85H1527.33M1515.13 899.85H1527.33M1580.29 856.95V871.65M1574.19 856.95H1586.39M1574.19 871.65H1586.39M1592.1 911.65V921.65M1586 911.65H1598.2M1586 921.65H1598.2M1662.98 916.95V926.95M1656.88 916.95H1669.08M1656.88 926.95H1669.08M1674.79 876.45V886.45M1668.69 876.45H1680.89M1668.69 886.45H1680.89" stroke="#FF61C3" stroke-width="2.2" fill="none"/>
<g fill="#FF61C3"><circle cx="1214.09" cy="929.35" r="6.2"/><circle cx="1225.9" cy="937.85" r="6.2"/><circle cx="1284.97" cy="944.05" r="6.2"/><circle cx="1320.4" cy="909.55" r="6.2"/><circle cx="1344.03" cy="935.25" r="6.2"/><circle cx="1367.66" cy="934.45" r="6.2"/><circle cx="1450.35" cy="877.55" r="6.2"/><circle cx="1462.16" cy="963.05" r="6.2"/><circle cx="1485.79" cy="911.95" r="6.2"/><circle cx="1497.6" cy="930.25" r="6.2"/><circle cx="1509.41" cy="945.75" r="6.2"/><circle cx="1521.23" cy="893.85" r="6.2"/><circle cx="1568.48" cy="920.55" r="6.2"/><circle cx="1580.29" cy="864.25" r="6.2"/><circle cx="1592.1" cy="916.65" r="6.2"/><circle cx="1603.92" cy="898.85" r="6.2"/><circle cx="1615.73" cy="903.05" r="6.2"/><circle cx="1662.98" cy="921.95" r="6.2"/><circle cx="1674.79" cy="881.45" r="6.2"/></g>
<rect x="1185" y="774.5" width="519.6" height="230.7" fill="none" stroke="#000" stroke-width="2"/>
<g fill="#FFFFFF"><rect x="1212.89" y="773.2" width="2.4" height="2.6"/><rect x="1212.89" y="1003.9" width="2.4" height="2.6"/><rect x="1224.7" y="773.2" width="2.4" height="2.6"/><rect x="1224.7" y="1003.9" width="2.4" height="2.6"/><rect x="1236.51" y="773.2" width="2.4" height="2.6"/><rect x="1236.51" y="1003.9" width="2.4" height="2.6"/><rect x="1248.33" y="773.2" width="2.4" height="2.6"/><rect x="1248.33" y="1003.9" width="2.4" height="2.6"/><rect x="1260.14" y="773.2" width="2.4" height="2.6"/><rect x="1260.14" y="1003.9" width="2.4" height="2.6"/><rect x="1271.95" y="773.2" width="2.4" height="2.6"/><rect x="1271.95" y="1003.9" width="2.4" height="2.6"/><rect x="1283.77" y="773.2" width="2.4" height="2.6"/><rect x="1283.77" y="1003.9" width="2.4" height="2.6"/><rect x="1295.58" y="773.2" width="2.4" height="2.6"/><rect x="1295.58" y="1003.9" width="2.4" height="2.6"/><rect x="1307.39" y="773.2" width="2.4" height="2.6"/><rect x="1307.39" y="1003.9" width="2.4" height="2.6"/><rect x="1319.2" y="773.2" width="2.4" height="2.6"/><rect x="1319.2" y="1003.9" width="2.4" height="2.6"/><rect x="1331.02" y="773.2" width="2.4" height="2.6"/><rect x="1331.02" y="1003.9" width="2.4" height="2.6"/><rect x="1342.83" y="773.2" width="2.4" height="2.6"/><rect x="1342.83" y="1003.9" width="2.4" height="2.6"/><rect x="1354.64" y="773.2" width="2.4" height="2.6"/><rect x="1354.64" y="1003.9" width="2.4" height="2.6"/><rect x="1366.46" y="773.2" width="2.4" height="2.6"/><rect x="1366.46" y="1003.9" width="2.4" height="2.6"/><rect x="1378.27" y="773.2" width="2.4" height="2.6"/><rect x="1378.27" y="1003.9" width="2.4" height="2.6"/><rect x="1390.08" y="773.2" width="2.4" height="2.6"/><rect x="1390.08" y="1003.9" width="2.4" height="2.6"/><rect x="1401.89" y="773.2" width="2.4" height="2.6"/><rect x="1401.89" y="1003.9" width="2.4" height="2.6"/><rect x="1413.71" y="773.2" width="2.4" height="2.6"/><rect x="1413.71" y="1003.9" width="2.4" height="2.6"/><rect x="1425.52" y="773.2" width="2.4" height="2.6"/><rect x="1425.52" y="1003.9" width="2.4" height="2.6"/><rect x="1437.33" y="773.2" width="2.4" height="2.6"/><rect x="1437.33" y="1003.9" width="2.4" height="2.6"/><rect x="1449.15" y="773.2" width="2.4" height="2.6"/><rect x="1449.15" y="1003.9" width="2.4" height="2.6"/><rect x="1460.96" y="773.2" width="2.4" height="2.6"/><rect x="1460.96" y="1003.9" width="2.4" height="2.6"/><rect x="1472.77" y="773.2" width="2.4" height="2.6"/><rect x="1472.77" y="1003.9" width="2.4" height="2.6"/><rect x="1484.59" y="773.2" width="2.4" height="2.6"/><rect x="1484.59" y="1003.9" width="2.4" height="2.6"/><rect x="1496.4" y="773.2" width="2.4" height="2.6"/><rect x="1496.4" y="1003.9" width="2.4" height="2.6"/><rect x="1508.21" y="773.2" width="2.4" height="2.6"/><rect x="1508.21" y="1003.9" width="2.4" height="2.6"/><rect x="1520.03" y="773.2" width="2.4" height="2.6"/><rect x="1520.03" y="1003.9" width="2.4" height="2.6"/><rect x="1531.84" y="773.2" width="2.4" height="2.6"/><rect x="1531.84" y="1003.9" width="2.4" height="2.6"/><rect x="1543.65" y="773.2" width="2.4" height="2.6"/><rect x="1543.65" y="1003.9" width="2.4" height="2.6"/><rect x="1555.46" y="773.2" width="2.4" height="2.6"/><rect x="1555.46" y="1003.9" width="2.4" height="2.6"/><rect x="1567.28" y="773.2" width="2.4" height="2.6"/><rect x="1567.28" y="1003.9" width="2.4" height="2.6"/><rect x="1579.09" y="773.2" width="2.4" height="2.6"/><rect x="1579.09" y="1003.9" width="2.4" height="2.6"/><rect x="1590.9" y="773.2" width="2.4" height="2.6"/><rect x="1590.9" y="1003.9" width="2.4" height="2.6"/><rect x="1602.72" y="773.2" width="2.4" height="2.6"/><rect x="1602.72" y="1003.9" width="2.4" height="2.6"/><rect x="1614.53" y="773.2" width="2.4" height="2.6"/><rect x="1614.53" y="1003.9" width="2.4" height="2.6"/><rect x="1626.34" y="773.2" width="2.4" height="2.6"/><rect x="1626.34" y="1003.9" width="2.4" height="2.6"/><rect x="1638.15" y="773.2" width="2.4" height="2.6"/><rect x="1638.15" y="1003.9" width="2.4" height="2.6"/><rect x="1649.97" y="773.2" width="2.4" height="2.6"/><rect x="1649.97" y="1003.9" width="2.4" height="2.6"/><rect x="1661.78" y="773.2" width="2.4" height="2.6"/><rect x="1661.78" y="1003.9" width="2.4" height="2.6"/><rect x="1673.59" y="773.2" width="2.4" height="2.6"/><rect x="1673.59" y="1003.9" width="2.4" height="2.6"/><rect x="1183.7" y="993.7" width="2.6" height="2.4"/><rect x="1703.3" y="993.7" width="2.6" height="2.4"/><rect x="1183.7" y="970.35" width="2.6" height="2.4"/><rect x="1703.3" y="970.35" width="2.6" height="2.4"/><rect x="1183.7" y="947" width="2.6" height="2.4"/><rect x="1703.3" y="947" width="2.6" height="2.4"/><rect x="1183.7" y="923.65" width="2.6" height="2.4"/><rect x="1703.3" y="923.65" width="2.6" height="2.4"/><rect x="1183.7" y="900.3" width="2.6" height="2.4"/><rect x="1703.3" y="900.3" width="2.6" height="2.4"/><rect x="1183.7" y="876.95" width="2.6" height="2.4"/><rect x="1703.3" y="876.95" width="2.6" height="2.4"/><rect x="1183.7" y="853.6" width="2.6" height="2.4"/><rect x="1703.3" y="853.6" width="2.6" height="2.4"/><rect x="1183.7" y="830.25" width="2.6" height="2.4"/><rect x="1703.3" y="830.25" width="2.6" height="2.4"/><rect x="1183.7" y="806.9" width="2.6" height="2.4"/><rect x="1703.3" y="806.9" width="2.6" height="2.4"/><rect x="1183.7" y="783.55" width="2.6" height="2.4"/><rect x="1703.3" y="783.55" width="2.6" height="2.4"/></g>
<rect x="1594" y="778.1" width="92.4" height="228.1" fill="rgb(245,255,195)" fill-opacity="0.4"/>
<text transform="translate(107.2 391.5) scale(1 1.03)" font-size="47.5" text-anchor="end" fill="#4D4D4D">8</text>
<text transform="translate(107.2 344.8) scale(1 1.03)" font-size="47.5" text-anchor="end" fill="#4D4D4D">10</text>
<text transform="translate(107.2 298.1) scale(1 1.03)" font-size="47.5" text-anchor="end" fill="#4D4D4D">12</text>
<text transform="translate(107.2 251.4) scale(1 1.03)" font-size="47.5" text-anchor="end" fill="#4D4D4D">14</text>
<text transform="translate(107.2 204.7) scale(1 1.03)" font-size="47.5" text-anchor="end" fill="#4D4D4D">16</text>
<path d="M113 374H119.5M113 327.3H119.5M113 280.6H119.5M113 233.9H119.5M113 187.2H119.5" stroke="#333333" stroke-width="2" fill="none"/>
<text transform="translate(107.2 690.4) scale(1 1.03)" font-size="47.5" text-anchor="end" fill="#4D4D4D">8</text>
<text transform="translate(107.2 643.7) scale(1 1.03)" font-size="47.5" text-anchor="end" fill="#4D4D4D">10</text>
<text transform="translate(107.2 597) scale(1 1.03)" font-size="47.5" text-anchor="end" fill="#4D4D4D">12</text>
<text transform="translate(107.2 550.3) scale(1 1.03)" font-size="47.5" text-anchor="end" fill="#4D4D4D">14</text>
<text transform="translate(107.2 503.6) scale(1 1.03)" font-size="47.5" text-anchor="end" fill="#4D4D4D">16</text>
<path d="M113 672.9H119.5M113 626.2H119.5M113 579.5H119.5M113 532.8H119.5M113 486.1H119.5" stroke="#333333" stroke-width="2" fill="none"/>
<text transform="translate(107.2 989.05) scale(1 1.03)" font-size="47.5" text-anchor="end" fill="#4D4D4D">8</text>
<text transform="translate(107.2 942.35) scale(1 1.03)" font-size="47.5" text-anchor="end" fill="#4D4D4D">10</text>
<text transform="translate(107.2 895.65) scale(1 1.03)" font-size="47.5" text-anchor="end" fill="#4D4D4D">12</text>
<text transform="translate(107.2 848.95) scale(1 1.03)" font-size="47.5" text-anchor="end" fill="#4D4D4D">14</text>
<text transform="translate(107.2 802.25) scale(1 1.03)" font-size="47.5" text-anchor="end" fill="#4D4D4D">16</text>
<path d="M113 971.55H119.5M113 924.85H119.5M113 878.15H119.5M113 831.45H119.5M113 784.75H119.5" stroke="#333333" stroke-width="2" fill="none"/>
<text transform="translate(182.2 1017.8) rotate(-90) scale(1 1.03)" font-size="28.6" text-anchor="end" fill="#4D4D4D">1985</text>
<text transform="translate(241.27 1017.8) rotate(-90) scale(1 1.03)" font-size="28.6" text-anchor="end" fill="#4D4D4D">1990</text>
<text transform="translate(300.33 1017.8) rotate(-90) scale(1 1.03)" font-size="28.6" text-anchor="end" fill="#4D4D4D">1995</text>
<text transform="translate(359.39 1017.8) rotate(-90) scale(1 1.03)" font-size="28.6" text-anchor="end" fill="#4D4D4D">2000</text>
<text transform="translate(418.46 1017.8) rotate(-90) scale(1 1.03)" font-size="28.6" text-anchor="end" fill="#4D4D4D">2005</text>
<text transform="translate(477.52 1017.8) rotate(-90) scale(1 1.03)" font-size="28.6" text-anchor="end" fill="#4D4D4D">2010</text>
<text transform="translate(536.59 1017.8) rotate(-90) scale(1 1.03)" font-size="28.6" text-anchor="end" fill="#4D4D4D">2015</text>
<text transform="translate(595.66 1017.8) rotate(-90) scale(1 1.03)" font-size="28.6" text-anchor="end" fill="#4D4D4D">2020</text>
<path d="M160.3 1005.2V1011.7M219.37 1005.2V1011.7M278.43 1005.2V1011.7M337.5 1005.2V1011.7M396.56 1005.2V1011.7M455.62 1005.2V1011.7M514.69 1005.2V1011.7M573.76 1005.2V1011.7" stroke="#333333" stroke-width="2" fill="none"/>
<text transform="translate(714.8 1017.8) rotate(-90) scale(1 1.03)" font-size="28.6" text-anchor="end" fill="#4D4D4D">1985</text>
<text transform="translate(773.87 1017.8) rotate(-90) scale(1 1.03)" font-size="28.6" text-anchor="end" fill="#4D4D4D">1990</text>
<text transform="translate(832.93 1017.8) rotate(-90) scale(1 1.03)" font-size="28.6" text-anchor="end" fill="#4D4D4D">1995</text>
<text transform="translate(892 1017.8) rotate(-90) scale(1 1.03)" font-size="28.6" text-anchor="end" fill="#4D4D4D">2000</text>
<text transform="translate(951.06 1017.8) rotate(-90) scale(1 1.03)" font-size="28.6" text-anchor="end" fill="#4D4D4D">2005</text>
<text transform="translate(1010.12 1017.8) rotate(-90) scale(1 1.03)" font-size="28.6" text-anchor="end" fill="#4D4D4D">2010</text>
<text transform="translate(1069.19 1017.8) rotate(-90) scale(1 1.03)" font-size="28.6" text-anchor="end" fill="#4D4D4D">2015</text>
<text transform="translate(1128.26 1017.8) rotate(-90) scale(1 1.03)" font-size="28.6" text-anchor="end" fill="#4D4D4D">2020</text>
<path d="M692.9 1005.2V1011.7M751.97 1005.2V1011.7M811.03 1005.2V1011.7M870.1 1005.2V1011.7M929.16 1005.2V1011.7M988.22 1005.2V1011.7M1047.29 1005.2V1011.7M1106.36 1005.2V1011.7" stroke="#333333" stroke-width="2" fill="none"/>
<text transform="translate(1247.8 1017.8) rotate(-90) scale(1 1.03)" font-size="28.6" text-anchor="end" fill="#4D4D4D">1985</text>
<text transform="translate(1306.87 1017.8) rotate(-90) scale(1 1.03)" font-size="28.6" text-anchor="end" fill="#4D4D4D">1990</text>
<text transform="translate(1365.93 1017.8) rotate(-90) scale(1 1.03)" font-size="28.6" text-anchor="end" fill="#4D4D4D">1995</text>
<text transform="translate(1425 1017.8) rotate(-90) scale(1 1.03)" font-size="28.6" text-anchor="end" fill="#4D4D4D">2000</text>
<text transform="translate(1484.06 1017.8) rotate(-90) scale(1 1.03)" font-size="28.6" text-anchor="end" fill="#4D4D4D">2005</text>
<text transform="translate(1543.13 1017.8) rotate(-90) scale(1 1.03)" font-size="28.6" text-anchor="end" fill="#4D4D4D">2010</text>
<text transform="translate(1602.19 1017.8) rotate(-90) scale(1 1.03)" font-size="28.6" text-anchor="end" fill="#4D4D4D">2015</text>
<text transform="translate(1661.26 1017.8) rotate(-90) scale(1 1.03)" font-size="28.6" text-anchor="end" fill="#4D4D4D">2020</text>
<path d="M1225.9 1005.2V1011.7M1284.97 1005.2V1011.7M1344.03 1005.2V1011.7M1403.1 1005.2V1011.7M1462.16 1005.2V1011.7M1521.23 1005.2V1011.7M1580.29 1005.2V1011.7M1639.36 1005.2V1011.7" stroke="#333333" stroke-width="2" fill="none"/>
<text transform="translate(912.3 1124.2) scale(1 1.03)" font-size="48" text-anchor="middle" fill="#000">Year</text>
<text transform="translate(38.5 590.8) rotate(-90) scale(1 1.03)" font-size="48" text-anchor="middle" fill="#000">SST (°C)</text>
<rect x="125" y="1245.5" width="510" height="52.5" fill="#E1E1E1" stroke="#333333" stroke-width="1.4"/>
<text transform="translate(380 1285.2) scale(1 1.03)" font-size="36" text-anchor="middle" fill="#1A1A1A">Malcolm Island</text>
<text transform="translate(238.2 1287.55) scale(1 1.03)" font-size="33" font-weight="bold" text-anchor="middle" fill="#1A1A1A">*</text>
<rect x="125" y="1298" width="510" height="233.6" fill="#FFFFFF"/>
<path d="M220.64 1445.85V1449.2" stroke="#F8766D" stroke-width="2.1" fill="none"/>
<rect x="160.86" y="1441.45" width="119.55" height="4.4" fill="#FFFFFF" stroke="#F8766D" stroke-width="2.1"/>
<line x1="160.86" y1="1443.6" x2="280.41" y2="1443.6" stroke="#F8766D" stroke-width="4"/>
<path d="M380.04 1425.75V1431.4" stroke="#F8766D" stroke-width="2.1" fill="none"/>
<rect x="320.26" y="1420.85" width="119.55" height="4.9" fill="#FFFFFF" stroke="#F8766D" stroke-width="2.1"/>
<line x1="320.26" y1="1422.3" x2="439.81" y2="1422.3" stroke="#F8766D" stroke-width="4"/>
<circle cx="380.04" cy="1407" r="4.6" fill="#F8766D"/>
<path d="M539.44 1376.9V1389.55" stroke="#F8766D" stroke-width="2.1" fill="none"/>
<rect x="479.67" y="1389.55" width="119.55" height="10" fill="#FFFFFF" stroke="#F8766D" stroke-width="2.1"/>
<line x1="479.67" y1="1394.5" x2="599.22" y2="1394.5" stroke="#F8766D" stroke-width="4"/>
<rect x="125" y="1298" width="510" height="233.6" fill="none" stroke="#333333" stroke-width="1.7"/>
<text transform="translate(216.5 1399.3) scale(1 1.03)" font-size="41" text-anchor="middle" fill="#000">a</text>
<text transform="translate(379.8 1375) scale(1 1.03)" font-size="41" text-anchor="middle" fill="#000">ab</text>
<text transform="translate(541.6 1354.4) scale(1 1.03)" font-size="41" text-anchor="middle" fill="#000">b</text>
<rect x="648" y="1245.5" width="510" height="52.5" fill="#E1E1E1" stroke="#333333" stroke-width="1.4"/>
<text transform="translate(903 1285.2) scale(1 1.03)" font-size="36" text-anchor="middle" fill="#1A1A1A">NR</text>
<rect x="648" y="1298" width="510" height="233.6" fill="#FFFFFF"/>
<path d="M743.64 1448.9V1467.1" stroke="#D39200" stroke-width="2.1" fill="none"/>
<rect x="683.87" y="1424" width="119.55" height="24.9" fill="#FFFFFF" stroke="#D39200" stroke-width="2.1"/>
<line x1="683.87" y1="1435.5" x2="803.41" y2="1435.5" stroke="#D39200" stroke-width="4"/>
<circle cx="743.64" cy="1380.6" r="4.6" fill="#D39200"/>
<path d="M903.04 1454.3V1459.5" stroke="#D39200" stroke-width="2.1" fill="none"/>
<rect x="843.26" y="1429.1" width="119.55" height="25.2" fill="#FFFFFF" stroke="#D39200" stroke-width="2.1"/>
<line x1="843.26" y1="1442.8" x2="962.81" y2="1442.8" stroke="#D39200" stroke-width="4"/>
<circle cx="903.04" cy="1351.4" r="4.6" fill="#D39200"/>
<circle cx="903.04" cy="1391.2" r="4.6" fill="#D39200"/>
<path d="M1062.44 1404.3V1414M1062.44 1433.1V1436.1" stroke="#D39200" stroke-width="2.1" fill="none"/>
<rect x="1002.67" y="1414" width="119.55" height="19.1" fill="#FFFFFF" stroke="#D39200" stroke-width="2.1"/>
<line x1="1002.67" y1="1425.8" x2="1122.22" y2="1425.8" stroke="#D39200" stroke-width="4"/>
<rect x="648" y="1298" width="510" height="233.6" fill="none" stroke="#333333" stroke-width="1.7"/>
<rect x="1171.5" y="1245.5" width="510" height="52.5" fill="#E1E1E1" stroke="#333333" stroke-width="1.4"/>
<text transform="translate(1426.5 1285.2) scale(1 1.03)" font-size="36" text-anchor="middle" fill="#1A1A1A">ABL</text>
<text transform="translate(1377.3 1287.25) scale(1 1.03)" font-size="33" font-weight="bold" text-anchor="middle" fill="#1A1A1A">*</text>
<rect x="1171.5" y="1298" width="510" height="233.6" fill="#FFFFFF"/>
<path d="M1267.14 1453.1V1458.75" stroke="#93AA00" stroke-width="2.1" fill="none"/>
<rect x="1207.37" y="1458.75" width="119.55" height="8.8" fill="#FFFFFF" stroke="#93AA00" stroke-width="2.1"/>
<line x1="1207.37" y1="1462.5" x2="1326.92" y2="1462.5" stroke="#93AA00" stroke-width="4"/>
<path d="M1426.54 1402.9V1432.4M1426.54 1457.7V1466.2" stroke="#93AA00" stroke-width="2.1" fill="none"/>
<rect x="1366.77" y="1432.4" width="119.55" height="25.3" fill="#FFFFFF" stroke="#93AA00" stroke-width="2.1"/>
<line x1="1366.77" y1="1440.9" x2="1486.32" y2="1440.9" stroke="#93AA00" stroke-width="4"/>
<path d="M1585.94 1417.2V1424.8" stroke="#93AA00" stroke-width="2.1" fill="none"/>
<rect x="1526.16" y="1424.8" width="119.55" height="12.2" fill="#FFFFFF" stroke="#93AA00" stroke-width="2.1"/>
<line x1="1526.16" y1="1428.8" x2="1645.72" y2="1428.8" stroke="#93AA00" stroke-width="4"/>
<circle cx="1585.94" cy="1454.6" r="4.6" fill="#93AA00"/>
<rect x="1171.5" y="1298" width="510" height="233.6" fill="none" stroke="#333333" stroke-width="1.7"/>
<text transform="translate(1260.5 1368.6) scale(1 1.03)" font-size="41" text-anchor="middle" fill="#000">a</text>
<text transform="translate(1426.9 1368.6) scale(1 1.03)" font-size="41" text-anchor="middle" fill="#000">ab</text>
<text transform="translate(1581.4 1368.6) scale(1 1.03)" font-size="41" text-anchor="middle" fill="#000">b</text>
<rect x="125" y="1545.5" width="510" height="52.3" fill="#E1E1E1" stroke="#333333" stroke-width="1.4"/>
<text transform="translate(380 1585.2) scale(1 1.03)" font-size="36" text-anchor="middle" fill="#1A1A1A">ABE</text>
<text transform="translate(325.4 1590.45) scale(1 1.03)" font-size="33" font-weight="bold" text-anchor="middle" fill="#1A1A1A">*</text>
<rect x="125" y="1597.8" width="510" height="233.8" fill="#FFFFFF"/>
<path d="M220.64 1737.4V1755.4M220.64 1774.2V1783.6" stroke="#00BA38" stroke-width="2.1" fill="none"/>
<rect x="160.86" y="1755.4" width="119.55" height="18.8" fill="#FFFFFF" stroke="#00BA38" stroke-width="2.1"/>
<line x1="160.86" y1="1769.3" x2="280.41" y2="1769.3" stroke="#00BA38" stroke-width="4"/>
<path d="M380.04 1703.1V1739.9M380.04 1769.6V1778.4" stroke="#00BA38" stroke-width="2.1" fill="none"/>
<rect x="320.26" y="1739.9" width="119.55" height="29.7" fill="#FFFFFF" stroke="#00BA38" stroke-width="2.1"/>
<line x1="320.26" y1="1764.5" x2="439.81" y2="1764.5" stroke="#00BA38" stroke-width="4"/>
<path d="M539.44 1678.9V1705.9M539.44 1742.3V1744.1" stroke="#00BA38" stroke-width="2.1" fill="none"/>
<rect x="479.67" y="1705.9" width="119.55" height="36.4" fill="#FFFFFF" stroke="#00BA38" stroke-width="2.1"/>
<line x1="479.67" y1="1721.7" x2="599.22" y2="1721.7" stroke="#00BA38" stroke-width="4"/>
<rect x="125" y="1597.8" width="510" height="233.8" fill="none" stroke="#333333" stroke-width="1.7"/>
<text transform="translate(221 1656.1) scale(1 1.03)" font-size="41" text-anchor="middle" fill="#000">a</text>
<text transform="translate(376.2 1656.1) scale(1 1.03)" font-size="41" text-anchor="middle" fill="#000">ab</text>
<text transform="translate(541.6 1656.1) scale(1 1.03)" font-size="41" text-anchor="middle" fill="#000">b</text>
<rect x="648" y="1545.5" width="510" height="52.3" fill="#E1E1E1" stroke="#333333" stroke-width="1.4"/>
<text transform="translate(903 1585.2) scale(1 1.03)" font-size="36" text-anchor="middle" fill="#1A1A1A">MIE</text>
<rect x="648" y="1597.8" width="510" height="233.8" fill="#FFFFFF"/>
<path d="M743.64 1746.6V1756.9M743.64 1774.8V1776.3" stroke="#00C19F" stroke-width="2.1" fill="none"/>
<rect x="683.87" y="1756.9" width="119.55" height="17.9" fill="#FFFFFF" stroke="#00C19F" stroke-width="2.1"/>
<line x1="683.87" y1="1770.8" x2="803.41" y2="1770.8" stroke="#00C19F" stroke-width="4"/>
<path d="M903.04 1706.5V1712.6" stroke="#00C19F" stroke-width="2.1" fill="none"/>
<rect x="843.26" y="1712.6" width="119.55" height="57" fill="#FFFFFF" stroke="#00C19F" stroke-width="2.1"/>
<line x1="843.26" y1="1753.2" x2="962.81" y2="1753.2" stroke="#00C19F" stroke-width="4"/>
<path d="M1062.44 1739.9V1743.35M1062.44 1750.05V1752" stroke="#00C19F" stroke-width="2.1" fill="none"/>
<rect x="1002.67" y="1743.35" width="119.55" height="6.7" fill="#FFFFFF" stroke="#00C19F" stroke-width="2.1"/>
<line x1="1002.67" y1="1748.1" x2="1122.22" y2="1748.1" stroke="#00C19F" stroke-width="4"/>
<rect x="648" y="1597.8" width="510" height="233.8" fill="none" stroke="#333333" stroke-width="1.7"/>
<rect x="1171.5" y="1545.5" width="510" height="52.3" fill="#E1E1E1" stroke="#333333" stroke-width="1.4"/>
<text transform="translate(1426.5 1585.2) scale(1 1.03)" font-size="36" text-anchor="middle" fill="#1A1A1A">PI</text>
<rect x="1171.5" y="1597.8" width="510" height="233.8" fill="#FFFFFF"/>
<path d="M1267.14 1765.1V1770.05M1267.14 1771.65V1773.6" stroke="#00B9E3" stroke-width="2.1" fill="none"/>
<rect x="1207.37" y="1770.05" width="119.55" height="1.6" fill="#FFFFFF" stroke="#00B9E3" stroke-width="2.1"/>
<line x1="1207.37" y1="1770.8" x2="1326.92" y2="1770.8" stroke="#00B9E3" stroke-width="4"/>
<path d="M1426.54 1741.4V1749M1426.54 1782.7V1799.1" stroke="#00B9E3" stroke-width="2.1" fill="none"/>
<rect x="1366.77" y="1749" width="119.55" height="33.7" fill="#FFFFFF" stroke="#00B9E3" stroke-width="2.1"/>
<line x1="1366.77" y1="1775.7" x2="1486.32" y2="1775.7" stroke="#00B9E3" stroke-width="4"/>
<path d="M1585.94 1738.3V1743.95M1585.94 1753.35V1759.9" stroke="#00B9E3" stroke-width="2.1" fill="none"/>
<rect x="1526.16" y="1743.95" width="119.55" height="9.4" fill="#FFFFFF" stroke="#00B9E3" stroke-width="2.1"/>
<line x1="1526.16" y1="1744.4" x2="1645.72" y2="1744.4" stroke="#00B9E3" stroke-width="4"/>
<rect x="1171.5" y="1597.8" width="510" height="233.8" fill="none" stroke="#333333" stroke-width="1.7"/>
<rect x="125" y="1845.5" width="510" height="52.2" fill="#E1E1E1" stroke="#333333" stroke-width="1.4"/>
<text transform="translate(380 1885.2) scale(1 1.03)" font-size="36" text-anchor="middle" fill="#1A1A1A">BH</text>
<text transform="translate(333.2 1887.35) scale(1 1.03)" font-size="33" font-weight="bold" text-anchor="middle" fill="#1A1A1A">*</text>
<rect x="125" y="1897.7" width="510" height="233.6" fill="#FFFFFF"/>
<path d="M220.64 2069.2V2074.25M220.64 2082.45V2096.5" stroke="#619CFF" stroke-width="2.1" fill="none"/>
<rect x="160.86" y="2074.25" width="119.55" height="8.2" fill="#FFFFFF" stroke="#619CFF" stroke-width="2.1"/>
<line x1="160.86" y1="2075.9" x2="280.41" y2="2075.9" stroke="#619CFF" stroke-width="4"/>
<path d="M380.04 2054.7V2059.8" stroke="#619CFF" stroke-width="2.1" fill="none"/>
<rect x="320.26" y="2059.8" width="119.55" height="2.7" fill="#FFFFFF" stroke="#619CFF" stroke-width="2.1"/>
<line x1="320.26" y1="2061.15" x2="439.81" y2="2061.15" stroke="#619CFF" stroke-width="4"/>
<circle cx="380.04" cy="2095" r="4.6" fill="#619CFF"/>
<path d="M539.44 2040.4V2045.95M539.44 2050.85V2058.6" stroke="#619CFF" stroke-width="2.1" fill="none"/>
<rect x="479.67" y="2045.95" width="119.55" height="4.9" fill="#FFFFFF" stroke="#619CFF" stroke-width="2.1"/>
<line x1="479.67" y1="2048.4" x2="599.22" y2="2048.4" stroke="#619CFF" stroke-width="4"/>
<rect x="125" y="1897.7" width="510" height="233.6" fill="none" stroke="#333333" stroke-width="1.7"/>
<text transform="translate(216.5 1983.6) scale(1 1.03)" font-size="41" text-anchor="middle" fill="#000">a</text>
<text transform="translate(382.2 1983.6) scale(1 1.03)" font-size="41" text-anchor="middle" fill="#000">ab</text>
<text transform="translate(537.1 1983.6) scale(1 1.03)" font-size="41" text-anchor="middle" fill="#000">b</text>
<rect x="648" y="1845.5" width="510" height="52.2" fill="#E1E1E1" stroke="#333333" stroke-width="1.4"/>
<text transform="translate(903 1885.2) scale(1 1.03)" font-size="36" text-anchor="middle" fill="#1A1A1A">WI</text>
<text transform="translate(857.8 1887.35) scale(1 1.03)" font-size="33" font-weight="bold" text-anchor="middle" fill="#1A1A1A">*</text>
<rect x="648" y="1897.7" width="510" height="233.6" fill="#FFFFFF"/>
<path d="M743.64 2077.85V2083.8" stroke="#DB72FB" stroke-width="2.1" fill="none"/>
<rect x="683.87" y="2073.95" width="119.55" height="3.9" fill="#FFFFFF" stroke="#DB72FB" stroke-width="2.1"/>
<line x1="683.87" y1="2075.9" x2="803.41" y2="2075.9" stroke="#DB72FB" stroke-width="4"/>
<circle cx="743.64" cy="2064.7" r="4.6" fill="#DB72FB"/>
<path d="M903.04 2039.2V2045.8M903.04 2057.7V2062.2" stroke="#DB72FB" stroke-width="2.1" fill="none"/>
<rect x="843.26" y="2045.8" width="119.55" height="11.9" fill="#FFFFFF" stroke="#DB72FB" stroke-width="2.1"/>
<line x1="843.26" y1="2052.5" x2="962.81" y2="2052.5" stroke="#DB72FB" stroke-width="4"/>
<path d="M1062.44 2034.3V2040.55M1062.44 2046.05V2055.6" stroke="#DB72FB" stroke-width="2.1" fill="none"/>
<rect x="1002.67" y="2040.55" width="119.55" height="5.5" fill="#FFFFFF" stroke="#DB72FB" stroke-width="2.1"/>
<line x1="1002.67" y1="2043.3" x2="1122.22" y2="2043.3" stroke="#DB72FB" stroke-width="4"/>
<rect x="648" y="1897.7" width="510" height="233.6" fill="none" stroke="#333333" stroke-width="1.7"/>
<text transform="translate(744 1983.6) scale(1 1.03)" font-size="41" text-anchor="middle" fill="#000">a</text>
<text transform="translate(900.4 1983.6) scale(1 1.03)" font-size="41" text-anchor="middle" fill="#000">ab</text>
<text transform="translate(1064.6 1983.6) scale(1 1.03)" font-size="41" text-anchor="middle" fill="#000">b</text>
<rect x="1171.5" y="1845.5" width="510" height="52.2" fill="#E1E1E1" stroke="#333333" stroke-width="1.4"/>
<text transform="translate(1426.5 1885.2) scale(1 1.03)" font-size="36" text-anchor="middle" fill="#1A1A1A">SLI</text>
<rect x="1171.5" y="1897.7" width="510" height="233.6" fill="#FFFFFF"/>
<path d="M1267.14 2061.45V2068.6" stroke="#FF61C3" stroke-width="2.1" fill="none"/>
<rect x="1207.37" y="2055.95" width="119.55" height="5.5" fill="#FFFFFF" stroke="#FF61C3" stroke-width="2.1"/>
<line x1="1207.37" y1="2059.8" x2="1326.92" y2="2059.8" stroke="#FF61C3" stroke-width="4"/>
<circle cx="1267.14" cy="2034.6" r="4.6" fill="#FF61C3"/>
<path d="M1426.54 2002.6V2023M1426.54 2067.1V2087.8" stroke="#FF61C3" stroke-width="2.1" fill="none"/>
<rect x="1366.77" y="2023" width="119.55" height="44.1" fill="#FFFFFF" stroke="#FF61C3" stroke-width="2.1"/>
<line x1="1366.77" y1="2046.1" x2="1486.32" y2="2046.1" stroke="#FF61C3" stroke-width="4"/>
<path d="M1585.94 1989.5V2014.2M1585.94 2043.7V2046.7" stroke="#FF61C3" stroke-width="2.1" fill="none"/>
<rect x="1526.16" y="2014.2" width="119.55" height="29.5" fill="#FFFFFF" stroke="#FF61C3" stroke-width="2.1"/>
<line x1="1526.16" y1="2027.9" x2="1645.72" y2="2027.9" stroke="#FF61C3" stroke-width="4"/>
<rect x="1171.5" y="1897.7" width="510" height="233.6" fill="none" stroke="#333333" stroke-width="1.7"/>
<text transform="translate(112.8 1515.1) scale(1 1.03)" font-size="47.5" text-anchor="end" fill="#4D4D4D">8</text>
<text transform="translate(112.8 1467.8) scale(1 1.03)" font-size="47.5" text-anchor="end" fill="#4D4D4D">10</text>
<text transform="translate(112.8 1420.5) scale(1 1.03)" font-size="47.5" text-anchor="end" fill="#4D4D4D">12</text>
<text transform="translate(112.8 1373.2) scale(1 1.03)" font-size="47.5" text-anchor="end" fill="#4D4D4D">14</text>
<text transform="translate(112.8 1325.9) scale(1 1.03)" font-size="47.5" text-anchor="end" fill="#4D4D4D">16</text>
<path d="M118.2 1497.8H125M118.2 1450.5H125M118.2 1403.2H125M118.2 1355.9H125M118.2 1308.6H125" stroke="#333333" stroke-width="2" fill="none"/>
<text transform="translate(112.8 1814.9) scale(1 1.03)" font-size="47.5" text-anchor="end" fill="#4D4D4D">8</text>
<text transform="translate(112.8 1767.6) scale(1 1.03)" font-size="47.5" text-anchor="end" fill="#4D4D4D">10</text>
<text transform="translate(112.8 1720.3) scale(1 1.03)" font-size="47.5" text-anchor="end" fill="#4D4D4D">12</text>
<text transform="translate(112.8 1673) scale(1 1.03)" font-size="47.5" text-anchor="end" fill="#4D4D4D">14</text>
<text transform="translate(112.8 1625.7) scale(1 1.03)" font-size="47.5" text-anchor="end" fill="#4D4D4D">16</text>
<path d="M118.2 1797.6H125M118.2 1750.3H125M118.2 1703H125M118.2 1655.7H125M118.2 1608.4H125" stroke="#333333" stroke-width="2" fill="none"/>
<text transform="translate(112.8 2114.8) scale(1 1.03)" font-size="47.5" text-anchor="end" fill="#4D4D4D">8</text>
<text transform="translate(112.8 2067.5) scale(1 1.03)" font-size="47.5" text-anchor="end" fill="#4D4D4D">10</text>
<text transform="translate(112.8 2020.2) scale(1 1.03)" font-size="47.5" text-anchor="end" fill="#4D4D4D">12</text>
<text transform="translate(112.8 1972.9) scale(1 1.03)" font-size="47.5" text-anchor="end" fill="#4D4D4D">14</text>
<text transform="translate(112.8 1925.6) scale(1 1.03)" font-size="47.5" text-anchor="end" fill="#4D4D4D">16</text>
<path d="M118.2 2097.5H125M118.2 2050.2H125M118.2 2002.9H125M118.2 1955.6H125M118.2 1908.3H125" stroke="#333333" stroke-width="2" fill="none"/>
<text transform="translate(220.64 2179) scale(1 1.03)" font-size="47.5" text-anchor="middle" fill="#4D4D4D">1</text>
<text transform="translate(380.04 2179) scale(1 1.03)" font-size="47.5" text-anchor="middle" fill="#4D4D4D">2</text>
<text transform="translate(539.44 2179) scale(1 1.03)" font-size="47.5" text-anchor="middle" fill="#4D4D4D">3</text>
<path d="M220.64 2131.3V2137.8M380.04 2131.3V2137.8M539.44 2131.3V2137.8" stroke="#333333" stroke-width="2" fill="none"/>
<text transform="translate(743.64 2179) scale(1 1.03)" font-size="47.5" text-anchor="middle" fill="#4D4D4D">1</text>
<text transform="translate(903.04 2179) scale(1 1.03)" font-size="47.5" text-anchor="middle" fill="#4D4D4D">2</text>
<text transform="translate(1062.44 2179) scale(1 1.03)" font-size="47.5" text-anchor="middle" fill="#4D4D4D">3</text>
<path d="M743.64 2131.3V2137.8M903.04 2131.3V2137.8M1062.44 2131.3V2137.8" stroke="#333333" stroke-width="2" fill="none"/>
<text transform="translate(1267.14 2179) scale(1 1.03)" font-size="47.5" text-anchor="middle" fill="#4D4D4D">1</text>
<text transform="translate(1426.54 2179) scale(1 1.03)" font-size="47.5" text-anchor="middle" fill="#4D4D4D">2</text>
<text transform="translate(1585.94 2179) scale(1 1.03)" font-size="47.5" text-anchor="middle" fill="#4D4D4D">3</text>
<path d="M1267.14 2131.3V2137.8M1426.54 2131.3V2137.8M1585.94 2131.3V2137.8" stroke="#333333" stroke-width="2" fill="none"/>
<text transform="translate(903.2 2229.5) scale(1 1.03)" font-size="47.3" text-anchor="middle" fill="#000">Period</text>
<text transform="translate(44.8 1714.6) rotate(-90) scale(1 1.03)" font-size="48" text-anchor="middle" fill="#000">SST (°C)</text>
</svg></body></html>
